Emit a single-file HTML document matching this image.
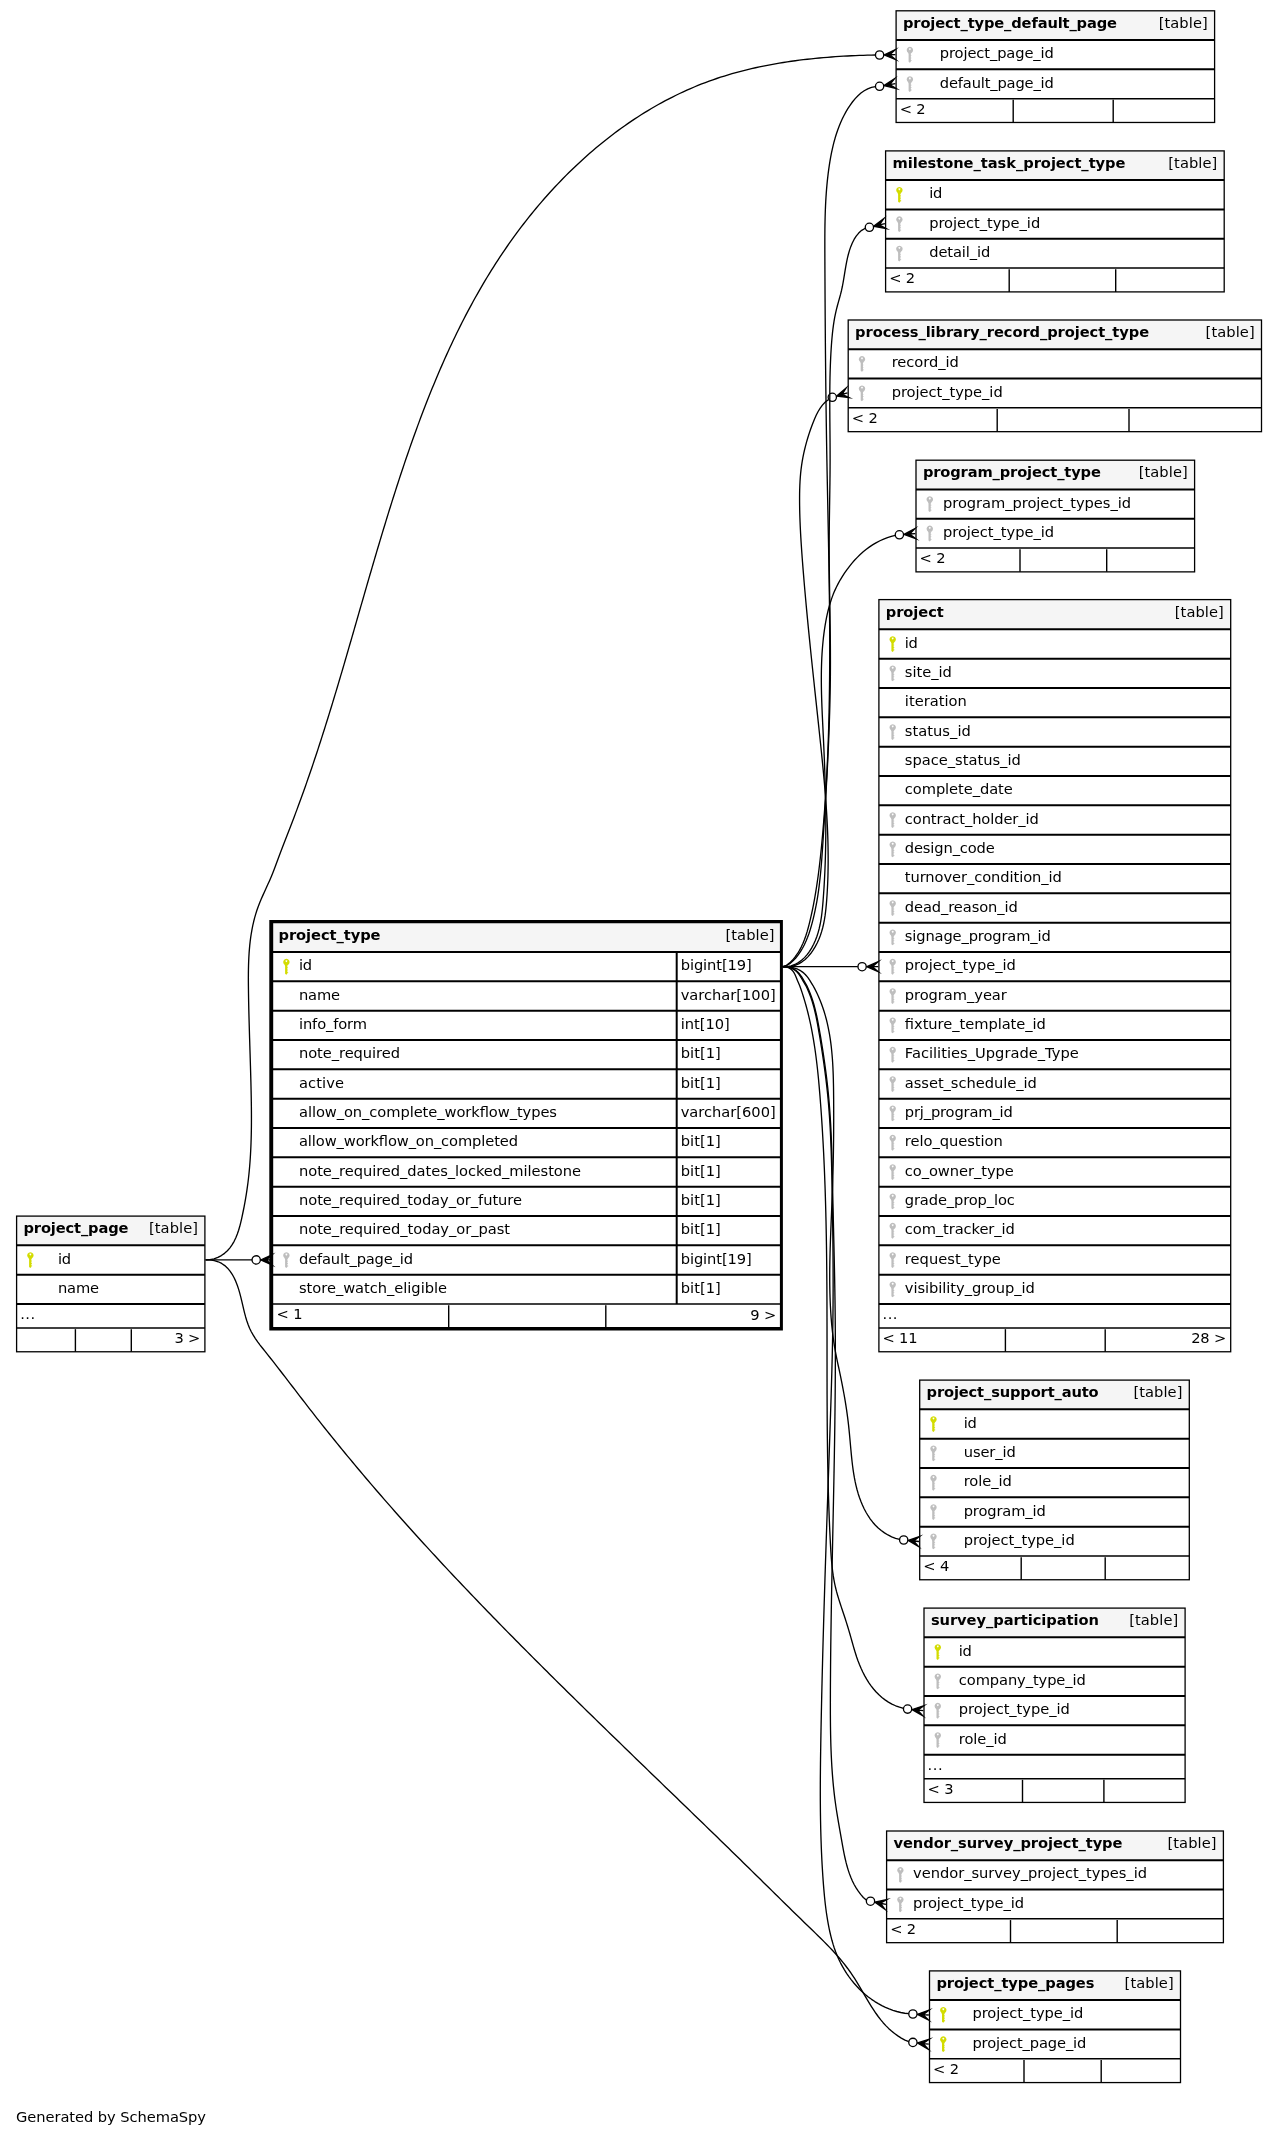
<!DOCTYPE html>
<html lang="en"><head><meta charset="utf-8"><title>project_type relationships</title>
<style>html,body{margin:0;padding:0;background:#fff}svg{display:block;will-change:transform}text{white-space:pre}</style>
</head><body>
<svg width="1277" height="2137" viewBox="0 0 1277 2137" font-family="'DejaVu Sans','Liberation Sans',sans-serif" font-size="14.67" fill="#000">
<rect width="1277" height="2137" fill="#fff"/>
<g class="tb" stroke="#000" fill="none">
<rect x="896.1" y="10.8" width="318.5" height="111.67" fill="#fff" stroke="none"/>
<rect x="896.1" y="10.8" width="318.5" height="29.2" fill="#f5f5f5" stroke="none"/>
<rect x="896.1" y="10.8" width="318.5" height="111.67" stroke-width="1.3"/>
<path d="M896.1,40 H1214.6" stroke-width="2"/>
<path d="M896.1,69.33 H1214.6" stroke-width="2"/>
<path d="M896.1,98.67 H1214.6" stroke-width="1.5"/>
<path d="M1013.2,99.87 V122.47" stroke-width="1.4"/>
<path d="M1113.2,99.87 V122.47" stroke-width="1.4"/>
</g>
<g>
<text x="903" y="27.7" font-weight="bold" textLength="214">project_type_default_page</text>
<text x="1207.7" y="28" text-anchor="end" textLength="49">[table]</text>
<path transform="translate(909.9,54.77)" d="M0,-7.9 a3.2,3.2 0 1 1 -0.01,0 Z M0,-6.55 a0.9,0.9 0 1 0 0.01,0 Z M-2,-2.4 H2 L0.95,-0.7 V0.7 H1.6 V1.3 H0.95 V3.0 H1.6 V3.6 H0.95 V5.5 H1.75 V6.3 H0.95 V7.0 L-0.1,7.9 L-1.3,6.9 V-0.7 Z" fill="#bebebe"/>
<text x="939.8" y="58.27" textLength="114">project_page_id</text>
<path transform="translate(909.9,84.1)" d="M0,-7.9 a3.2,3.2 0 1 1 -0.01,0 Z M0,-6.55 a0.9,0.9 0 1 0 0.01,0 Z M-2,-2.4 H2 L0.95,-0.7 V0.7 H1.6 V1.3 H0.95 V3.0 H1.6 V3.6 H0.95 V5.5 H1.75 V6.3 H0.95 V7.0 L-0.1,7.9 L-1.3,6.9 V-0.7 Z" fill="#bebebe"/>
<text x="939.8" y="87.6" textLength="114">default_page_id</text>
<text x="899.7" y="113.87" textLength="26">&lt; 2</text>
</g>
<g class="tb" stroke="#000" fill="none">
<rect x="885.6" y="150.9" width="338.6" height="141" fill="#fff" stroke="none"/>
<rect x="885.6" y="150.9" width="338.6" height="29.2" fill="#f5f5f5" stroke="none"/>
<rect x="885.6" y="150.9" width="338.6" height="141" stroke-width="1.3"/>
<path d="M885.6,180.1 H1224.2" stroke-width="2"/>
<path d="M885.6,209.43 H1224.2" stroke-width="2"/>
<path d="M885.6,238.77 H1224.2" stroke-width="2"/>
<path d="M885.6,268.1 H1224.2" stroke-width="1.5"/>
<path d="M1009.2,269.3 V291.9" stroke-width="1.4"/>
<path d="M1115.7,269.3 V291.9" stroke-width="1.4"/>
</g>
<g>
<text x="892.5" y="167.8" font-weight="bold" textLength="233">milestone_task_project_type</text>
<text x="1217.3" y="168.1" text-anchor="end" textLength="49">[table]</text>
<path transform="translate(899.4,194.87)" d="M0,-7.9 a3.2,3.2 0 1 1 -0.01,0 Z M0,-6.55 a0.9,0.9 0 1 0 0.01,0 Z M-2,-2.4 H2 L0.95,-0.7 V0.7 H1.6 V1.3 H0.95 V3.0 H1.6 V3.6 H0.95 V5.5 H1.75 V6.3 H0.95 V7.0 L-0.1,7.9 L-1.3,6.9 V-0.7 Z" fill="#d3dc00"/>
<text x="929.2" y="198.37" textLength="13">id</text>
<path transform="translate(899.4,224.2)" d="M0,-7.9 a3.2,3.2 0 1 1 -0.01,0 Z M0,-6.55 a0.9,0.9 0 1 0 0.01,0 Z M-2,-2.4 H2 L0.95,-0.7 V0.7 H1.6 V1.3 H0.95 V3.0 H1.6 V3.6 H0.95 V5.5 H1.75 V6.3 H0.95 V7.0 L-0.1,7.9 L-1.3,6.9 V-0.7 Z" fill="#bebebe"/>
<text x="929.2" y="227.7" textLength="111">project_type_id</text>
<path transform="translate(899.4,253.53)" d="M0,-7.9 a3.2,3.2 0 1 1 -0.01,0 Z M0,-6.55 a0.9,0.9 0 1 0 0.01,0 Z M-2,-2.4 H2 L0.95,-0.7 V0.7 H1.6 V1.3 H0.95 V3.0 H1.6 V3.6 H0.95 V5.5 H1.75 V6.3 H0.95 V7.0 L-0.1,7.9 L-1.3,6.9 V-0.7 Z" fill="#bebebe"/>
<text x="929.2" y="257.03" textLength="61">detail_id</text>
<text x="889.2" y="283.3" textLength="26">&lt; 2</text>
</g>
<g class="tb" stroke="#000" fill="none">
<rect x="848.2" y="320" width="413.3" height="111.67" fill="#fff" stroke="none"/>
<rect x="848.2" y="320" width="413.3" height="29.2" fill="#f5f5f5" stroke="none"/>
<rect x="848.2" y="320" width="413.3" height="111.67" stroke-width="1.3"/>
<path d="M848.2,349.2 H1261.5" stroke-width="2"/>
<path d="M848.2,378.53 H1261.5" stroke-width="2"/>
<path d="M848.2,407.87 H1261.5" stroke-width="1.5"/>
<path d="M997.2,409.07 V431.67" stroke-width="1.4"/>
<path d="M1129,409.07 V431.67" stroke-width="1.4"/>
</g>
<g>
<text x="855.1" y="336.9" font-weight="bold" textLength="294">process_library_record_project_type</text>
<text x="1254.6" y="337.2" text-anchor="end" textLength="49">[table]</text>
<path transform="translate(862,363.97)" d="M0,-7.9 a3.2,3.2 0 1 1 -0.01,0 Z M0,-6.55 a0.9,0.9 0 1 0 0.01,0 Z M-2,-2.4 H2 L0.95,-0.7 V0.7 H1.6 V1.3 H0.95 V3.0 H1.6 V3.6 H0.95 V5.5 H1.75 V6.3 H0.95 V7.0 L-0.1,7.9 L-1.3,6.9 V-0.7 Z" fill="#bebebe"/>
<text x="891.7" y="367.47" textLength="67">record_id</text>
<path transform="translate(862,393.3)" d="M0,-7.9 a3.2,3.2 0 1 1 -0.01,0 Z M0,-6.55 a0.9,0.9 0 1 0 0.01,0 Z M-2,-2.4 H2 L0.95,-0.7 V0.7 H1.6 V1.3 H0.95 V3.0 H1.6 V3.6 H0.95 V5.5 H1.75 V6.3 H0.95 V7.0 L-0.1,7.9 L-1.3,6.9 V-0.7 Z" fill="#bebebe"/>
<text x="891.7" y="396.8" textLength="111">project_type_id</text>
<text x="851.8" y="423.07" textLength="26">&lt; 2</text>
</g>
<g class="tb" stroke="#000" fill="none">
<rect x="916" y="460.2" width="278.6" height="111.67" fill="#fff" stroke="none"/>
<rect x="916" y="460.2" width="278.6" height="29.2" fill="#f5f5f5" stroke="none"/>
<rect x="916" y="460.2" width="278.6" height="111.67" stroke-width="1.3"/>
<path d="M916,489.4 H1194.6" stroke-width="2"/>
<path d="M916,518.73 H1194.6" stroke-width="2"/>
<path d="M916,548.07 H1194.6" stroke-width="1.5"/>
<path d="M1020,549.27 V571.87" stroke-width="1.4"/>
<path d="M1106.7,549.27 V571.87" stroke-width="1.4"/>
</g>
<g>
<text x="922.9" y="477.1" font-weight="bold" textLength="178">program_project_type</text>
<text x="1187.7" y="477.4" text-anchor="end" textLength="49">[table]</text>
<path transform="translate(929.8,504.17)" d="M0,-7.9 a3.2,3.2 0 1 1 -0.01,0 Z M0,-6.55 a0.9,0.9 0 1 0 0.01,0 Z M-2,-2.4 H2 L0.95,-0.7 V0.7 H1.6 V1.3 H0.95 V3.0 H1.6 V3.6 H0.95 V5.5 H1.75 V6.3 H0.95 V7.0 L-0.1,7.9 L-1.3,6.9 V-0.7 Z" fill="#bebebe"/>
<text x="943" y="507.67" textLength="188">program_project_types_id</text>
<path transform="translate(929.8,533.5)" d="M0,-7.9 a3.2,3.2 0 1 1 -0.01,0 Z M0,-6.55 a0.9,0.9 0 1 0 0.01,0 Z M-2,-2.4 H2 L0.95,-0.7 V0.7 H1.6 V1.3 H0.95 V3.0 H1.6 V3.6 H0.95 V5.5 H1.75 V6.3 H0.95 V7.0 L-0.1,7.9 L-1.3,6.9 V-0.7 Z" fill="#bebebe"/>
<text x="943" y="537" textLength="111">project_type_id</text>
<text x="919.6" y="563.27" textLength="26">&lt; 2</text>
</g>
<g class="tb" stroke="#000" fill="none">
<rect x="878.9" y="599.6" width="351.8" height="752.16" fill="#fff" stroke="none"/>
<rect x="878.9" y="599.6" width="351.8" height="29.7" fill="#f5f5f5" stroke="none"/>
<rect x="878.9" y="599.6" width="351.8" height="752.16" stroke-width="1.3"/>
<path d="M878.9,629.3 H1230.7" stroke-width="2"/>
<path d="M878.9,658.63 H1230.7" stroke-width="2"/>
<path d="M878.9,687.97 H1230.7" stroke-width="2"/>
<path d="M878.9,717.3 H1230.7" stroke-width="2"/>
<path d="M878.9,746.63 H1230.7" stroke-width="2"/>
<path d="M878.9,775.97 H1230.7" stroke-width="2"/>
<path d="M878.9,805.3 H1230.7" stroke-width="2"/>
<path d="M878.9,834.63 H1230.7" stroke-width="2"/>
<path d="M878.9,863.96 H1230.7" stroke-width="2"/>
<path d="M878.9,893.3 H1230.7" stroke-width="2"/>
<path d="M878.9,922.63 H1230.7" stroke-width="2"/>
<path d="M878.9,951.96 H1230.7" stroke-width="2"/>
<path d="M878.9,981.3 H1230.7" stroke-width="2"/>
<path d="M878.9,1010.63 H1230.7" stroke-width="2"/>
<path d="M878.9,1039.96 H1230.7" stroke-width="2"/>
<path d="M878.9,1069.3 H1230.7" stroke-width="2"/>
<path d="M878.9,1098.63 H1230.7" stroke-width="2"/>
<path d="M878.9,1127.96 H1230.7" stroke-width="2"/>
<path d="M878.9,1157.29 H1230.7" stroke-width="2"/>
<path d="M878.9,1186.63 H1230.7" stroke-width="2"/>
<path d="M878.9,1215.96 H1230.7" stroke-width="2"/>
<path d="M878.9,1245.29 H1230.7" stroke-width="2"/>
<path d="M878.9,1274.63 H1230.7" stroke-width="2"/>
<path d="M878.9,1303.96 H1230.7" stroke-width="2"/>
<path d="M878.9,1327.96 H1230.7" stroke-width="1.5"/>
<path d="M1005.4,1329.16 V1351.76" stroke-width="1.4"/>
<path d="M1105.2,1329.16 V1351.76" stroke-width="1.4"/>
</g>
<g>
<text x="885.8" y="616.5" font-weight="bold" textLength="58">project</text>
<text x="1223.8" y="616.8" text-anchor="end" textLength="49">[table]</text>
<path transform="translate(892.7,644.07)" d="M0,-7.9 a3.2,3.2 0 1 1 -0.01,0 Z M0,-6.55 a0.9,0.9 0 1 0 0.01,0 Z M-2,-2.4 H2 L0.95,-0.7 V0.7 H1.6 V1.3 H0.95 V3.0 H1.6 V3.6 H0.95 V5.5 H1.75 V6.3 H0.95 V7.0 L-0.1,7.9 L-1.3,6.9 V-0.7 Z" fill="#d3dc00"/>
<text x="904.8" y="647.57" textLength="13">id</text>
<path transform="translate(892.7,673.4)" d="M0,-7.9 a3.2,3.2 0 1 1 -0.01,0 Z M0,-6.55 a0.9,0.9 0 1 0 0.01,0 Z M-2,-2.4 H2 L0.95,-0.7 V0.7 H1.6 V1.3 H0.95 V3.0 H1.6 V3.6 H0.95 V5.5 H1.75 V6.3 H0.95 V7.0 L-0.1,7.9 L-1.3,6.9 V-0.7 Z" fill="#bebebe"/>
<text x="904.8" y="676.9" textLength="47">site_id</text>
<text x="904.8" y="706.23" textLength="62">iteration</text>
<path transform="translate(892.7,732.07)" d="M0,-7.9 a3.2,3.2 0 1 1 -0.01,0 Z M0,-6.55 a0.9,0.9 0 1 0 0.01,0 Z M-2,-2.4 H2 L0.95,-0.7 V0.7 H1.6 V1.3 H0.95 V3.0 H1.6 V3.6 H0.95 V5.5 H1.75 V6.3 H0.95 V7.0 L-0.1,7.9 L-1.3,6.9 V-0.7 Z" fill="#bebebe"/>
<text x="904.8" y="735.57" textLength="66">status_id</text>
<text x="904.8" y="764.9" textLength="116">space_status_id</text>
<text x="904.8" y="794.23" textLength="108">complete_date</text>
<path transform="translate(892.7,820.06)" d="M0,-7.9 a3.2,3.2 0 1 1 -0.01,0 Z M0,-6.55 a0.9,0.9 0 1 0 0.01,0 Z M-2,-2.4 H2 L0.95,-0.7 V0.7 H1.6 V1.3 H0.95 V3.0 H1.6 V3.6 H0.95 V5.5 H1.75 V6.3 H0.95 V7.0 L-0.1,7.9 L-1.3,6.9 V-0.7 Z" fill="#bebebe"/>
<text x="904.8" y="823.56" textLength="134">contract_holder_id</text>
<path transform="translate(892.7,849.4)" d="M0,-7.9 a3.2,3.2 0 1 1 -0.01,0 Z M0,-6.55 a0.9,0.9 0 1 0 0.01,0 Z M-2,-2.4 H2 L0.95,-0.7 V0.7 H1.6 V1.3 H0.95 V3.0 H1.6 V3.6 H0.95 V5.5 H1.75 V6.3 H0.95 V7.0 L-0.1,7.9 L-1.3,6.9 V-0.7 Z" fill="#bebebe"/>
<text x="904.8" y="852.9" textLength="90">design_code</text>
<text x="904.8" y="882.23" textLength="157">turnover_condition_id</text>
<path transform="translate(892.7,908.06)" d="M0,-7.9 a3.2,3.2 0 1 1 -0.01,0 Z M0,-6.55 a0.9,0.9 0 1 0 0.01,0 Z M-2,-2.4 H2 L0.95,-0.7 V0.7 H1.6 V1.3 H0.95 V3.0 H1.6 V3.6 H0.95 V5.5 H1.75 V6.3 H0.95 V7.0 L-0.1,7.9 L-1.3,6.9 V-0.7 Z" fill="#bebebe"/>
<text x="904.8" y="911.56" textLength="113">dead_reason_id</text>
<path transform="translate(892.7,937.4)" d="M0,-7.9 a3.2,3.2 0 1 1 -0.01,0 Z M0,-6.55 a0.9,0.9 0 1 0 0.01,0 Z M-2,-2.4 H2 L0.95,-0.7 V0.7 H1.6 V1.3 H0.95 V3.0 H1.6 V3.6 H0.95 V5.5 H1.75 V6.3 H0.95 V7.0 L-0.1,7.9 L-1.3,6.9 V-0.7 Z" fill="#bebebe"/>
<text x="904.8" y="940.9" textLength="146">signage_program_id</text>
<path transform="translate(892.7,966.73)" d="M0,-7.9 a3.2,3.2 0 1 1 -0.01,0 Z M0,-6.55 a0.9,0.9 0 1 0 0.01,0 Z M-2,-2.4 H2 L0.95,-0.7 V0.7 H1.6 V1.3 H0.95 V3.0 H1.6 V3.6 H0.95 V5.5 H1.75 V6.3 H0.95 V7.0 L-0.1,7.9 L-1.3,6.9 V-0.7 Z" fill="#bebebe"/>
<text x="904.8" y="970.23" textLength="111">project_type_id</text>
<path transform="translate(892.7,996.06)" d="M0,-7.9 a3.2,3.2 0 1 1 -0.01,0 Z M0,-6.55 a0.9,0.9 0 1 0 0.01,0 Z M-2,-2.4 H2 L0.95,-0.7 V0.7 H1.6 V1.3 H0.95 V3.0 H1.6 V3.6 H0.95 V5.5 H1.75 V6.3 H0.95 V7.0 L-0.1,7.9 L-1.3,6.9 V-0.7 Z" fill="#bebebe"/>
<text x="904.8" y="999.56" textLength="102">program_year</text>
<path transform="translate(892.7,1025.4)" d="M0,-7.9 a3.2,3.2 0 1 1 -0.01,0 Z M0,-6.55 a0.9,0.9 0 1 0 0.01,0 Z M-2,-2.4 H2 L0.95,-0.7 V0.7 H1.6 V1.3 H0.95 V3.0 H1.6 V3.6 H0.95 V5.5 H1.75 V6.3 H0.95 V7.0 L-0.1,7.9 L-1.3,6.9 V-0.7 Z" fill="#bebebe"/>
<text x="904.8" y="1028.9" textLength="141">fixture_template_id</text>
<path transform="translate(892.7,1054.73)" d="M0,-7.9 a3.2,3.2 0 1 1 -0.01,0 Z M0,-6.55 a0.9,0.9 0 1 0 0.01,0 Z M-2,-2.4 H2 L0.95,-0.7 V0.7 H1.6 V1.3 H0.95 V3.0 H1.6 V3.6 H0.95 V5.5 H1.75 V6.3 H0.95 V7.0 L-0.1,7.9 L-1.3,6.9 V-0.7 Z" fill="#bebebe"/>
<text x="904.8" y="1058.23" textLength="174">Facilities_Upgrade_Type</text>
<path transform="translate(892.7,1084.06)" d="M0,-7.9 a3.2,3.2 0 1 1 -0.01,0 Z M0,-6.55 a0.9,0.9 0 1 0 0.01,0 Z M-2,-2.4 H2 L0.95,-0.7 V0.7 H1.6 V1.3 H0.95 V3.0 H1.6 V3.6 H0.95 V5.5 H1.75 V6.3 H0.95 V7.0 L-0.1,7.9 L-1.3,6.9 V-0.7 Z" fill="#bebebe"/>
<text x="904.8" y="1087.56" textLength="132">asset_schedule_id</text>
<path transform="translate(892.7,1113.39)" d="M0,-7.9 a3.2,3.2 0 1 1 -0.01,0 Z M0,-6.55 a0.9,0.9 0 1 0 0.01,0 Z M-2,-2.4 H2 L0.95,-0.7 V0.7 H1.6 V1.3 H0.95 V3.0 H1.6 V3.6 H0.95 V5.5 H1.75 V6.3 H0.95 V7.0 L-0.1,7.9 L-1.3,6.9 V-0.7 Z" fill="#bebebe"/>
<text x="904.8" y="1116.89" textLength="108">prj_program_id</text>
<path transform="translate(892.7,1142.73)" d="M0,-7.9 a3.2,3.2 0 1 1 -0.01,0 Z M0,-6.55 a0.9,0.9 0 1 0 0.01,0 Z M-2,-2.4 H2 L0.95,-0.7 V0.7 H1.6 V1.3 H0.95 V3.0 H1.6 V3.6 H0.95 V5.5 H1.75 V6.3 H0.95 V7.0 L-0.1,7.9 L-1.3,6.9 V-0.7 Z" fill="#bebebe"/>
<text x="904.8" y="1146.23" textLength="98">relo_question</text>
<path transform="translate(892.7,1172.06)" d="M0,-7.9 a3.2,3.2 0 1 1 -0.01,0 Z M0,-6.55 a0.9,0.9 0 1 0 0.01,0 Z M-2,-2.4 H2 L0.95,-0.7 V0.7 H1.6 V1.3 H0.95 V3.0 H1.6 V3.6 H0.95 V5.5 H1.75 V6.3 H0.95 V7.0 L-0.1,7.9 L-1.3,6.9 V-0.7 Z" fill="#bebebe"/>
<text x="904.8" y="1175.56" textLength="109">co_owner_type</text>
<path transform="translate(892.7,1201.39)" d="M0,-7.9 a3.2,3.2 0 1 1 -0.01,0 Z M0,-6.55 a0.9,0.9 0 1 0 0.01,0 Z M-2,-2.4 H2 L0.95,-0.7 V0.7 H1.6 V1.3 H0.95 V3.0 H1.6 V3.6 H0.95 V5.5 H1.75 V6.3 H0.95 V7.0 L-0.1,7.9 L-1.3,6.9 V-0.7 Z" fill="#bebebe"/>
<text x="904.8" y="1204.89" textLength="110">grade_prop_loc</text>
<path transform="translate(892.7,1230.73)" d="M0,-7.9 a3.2,3.2 0 1 1 -0.01,0 Z M0,-6.55 a0.9,0.9 0 1 0 0.01,0 Z M-2,-2.4 H2 L0.95,-0.7 V0.7 H1.6 V1.3 H0.95 V3.0 H1.6 V3.6 H0.95 V5.5 H1.75 V6.3 H0.95 V7.0 L-0.1,7.9 L-1.3,6.9 V-0.7 Z" fill="#bebebe"/>
<text x="904.8" y="1234.23" textLength="110">com_tracker_id</text>
<path transform="translate(892.7,1260.06)" d="M0,-7.9 a3.2,3.2 0 1 1 -0.01,0 Z M0,-6.55 a0.9,0.9 0 1 0 0.01,0 Z M-2,-2.4 H2 L0.95,-0.7 V0.7 H1.6 V1.3 H0.95 V3.0 H1.6 V3.6 H0.95 V5.5 H1.75 V6.3 H0.95 V7.0 L-0.1,7.9 L-1.3,6.9 V-0.7 Z" fill="#bebebe"/>
<text x="904.8" y="1263.56" textLength="96">request_type</text>
<path transform="translate(892.7,1289.39)" d="M0,-7.9 a3.2,3.2 0 1 1 -0.01,0 Z M0,-6.55 a0.9,0.9 0 1 0 0.01,0 Z M-2,-2.4 H2 L0.95,-0.7 V0.7 H1.6 V1.3 H0.95 V3.0 H1.6 V3.6 H0.95 V5.5 H1.75 V6.3 H0.95 V7.0 L-0.1,7.9 L-1.3,6.9 V-0.7 Z" fill="#bebebe"/>
<text x="904.8" y="1292.89" textLength="130">visibility_group_id</text>
<text x="882.5" y="1319.26" textLength="15">...</text>
<text x="882.5" y="1343.16" textLength="35">&lt; 11</text>
<text x="1226.2" y="1343.16" text-anchor="end" textLength="35">28 &gt;</text>
</g>
<g class="tb" stroke="#000" fill="none">
<rect x="919.7" y="1380.1" width="269.6" height="199.66" fill="#fff" stroke="none"/>
<rect x="919.7" y="1380.1" width="269.6" height="29.2" fill="#f5f5f5" stroke="none"/>
<rect x="919.7" y="1380.1" width="269.6" height="199.66" stroke-width="1.3"/>
<path d="M919.7,1409.3 H1189.3" stroke-width="2"/>
<path d="M919.7,1438.63 H1189.3" stroke-width="2"/>
<path d="M919.7,1467.97 H1189.3" stroke-width="2"/>
<path d="M919.7,1497.3 H1189.3" stroke-width="2"/>
<path d="M919.7,1526.63 H1189.3" stroke-width="2"/>
<path d="M919.7,1555.96 H1189.3" stroke-width="1.5"/>
<path d="M1021.2,1557.16 V1579.76" stroke-width="1.4"/>
<path d="M1105.2,1557.16 V1579.76" stroke-width="1.4"/>
</g>
<g>
<text x="926.6" y="1397" font-weight="bold" textLength="172">project_support_auto</text>
<text x="1182.4" y="1397.3" text-anchor="end" textLength="49">[table]</text>
<path transform="translate(933.5,1424.07)" d="M0,-7.9 a3.2,3.2 0 1 1 -0.01,0 Z M0,-6.55 a0.9,0.9 0 1 0 0.01,0 Z M-2,-2.4 H2 L0.95,-0.7 V0.7 H1.6 V1.3 H0.95 V3.0 H1.6 V3.6 H0.95 V5.5 H1.75 V6.3 H0.95 V7.0 L-0.1,7.9 L-1.3,6.9 V-0.7 Z" fill="#d3dc00"/>
<text x="963.7" y="1427.57" textLength="13">id</text>
<path transform="translate(933.5,1453.4)" d="M0,-7.9 a3.2,3.2 0 1 1 -0.01,0 Z M0,-6.55 a0.9,0.9 0 1 0 0.01,0 Z M-2,-2.4 H2 L0.95,-0.7 V0.7 H1.6 V1.3 H0.95 V3.0 H1.6 V3.6 H0.95 V5.5 H1.75 V6.3 H0.95 V7.0 L-0.1,7.9 L-1.3,6.9 V-0.7 Z" fill="#bebebe"/>
<text x="963.7" y="1456.9" textLength="52">user_id</text>
<path transform="translate(933.5,1482.73)" d="M0,-7.9 a3.2,3.2 0 1 1 -0.01,0 Z M0,-6.55 a0.9,0.9 0 1 0 0.01,0 Z M-2,-2.4 H2 L0.95,-0.7 V0.7 H1.6 V1.3 H0.95 V3.0 H1.6 V3.6 H0.95 V5.5 H1.75 V6.3 H0.95 V7.0 L-0.1,7.9 L-1.3,6.9 V-0.7 Z" fill="#bebebe"/>
<text x="963.7" y="1486.23" textLength="48">role_id</text>
<path transform="translate(933.5,1512.07)" d="M0,-7.9 a3.2,3.2 0 1 1 -0.01,0 Z M0,-6.55 a0.9,0.9 0 1 0 0.01,0 Z M-2,-2.4 H2 L0.95,-0.7 V0.7 H1.6 V1.3 H0.95 V3.0 H1.6 V3.6 H0.95 V5.5 H1.75 V6.3 H0.95 V7.0 L-0.1,7.9 L-1.3,6.9 V-0.7 Z" fill="#bebebe"/>
<text x="963.7" y="1515.57" textLength="82">program_id</text>
<path transform="translate(933.5,1541.4)" d="M0,-7.9 a3.2,3.2 0 1 1 -0.01,0 Z M0,-6.55 a0.9,0.9 0 1 0 0.01,0 Z M-2,-2.4 H2 L0.95,-0.7 V0.7 H1.6 V1.3 H0.95 V3.0 H1.6 V3.6 H0.95 V5.5 H1.75 V6.3 H0.95 V7.0 L-0.1,7.9 L-1.3,6.9 V-0.7 Z" fill="#bebebe"/>
<text x="963.7" y="1544.9" textLength="111">project_type_id</text>
<text x="923.3" y="1571.16" textLength="26">&lt; 4</text>
</g>
<g class="tb" stroke="#000" fill="none">
<rect x="924" y="1608.1" width="261.1" height="194.33" fill="#fff" stroke="none"/>
<rect x="924" y="1608.1" width="261.1" height="29.2" fill="#f5f5f5" stroke="none"/>
<rect x="924" y="1608.1" width="261.1" height="194.33" stroke-width="1.3"/>
<path d="M924,1637.3 H1185.1" stroke-width="2"/>
<path d="M924,1666.63 H1185.1" stroke-width="2"/>
<path d="M924,1695.97 H1185.1" stroke-width="2"/>
<path d="M924,1725.3 H1185.1" stroke-width="2"/>
<path d="M924,1754.63 H1185.1" stroke-width="2"/>
<path d="M924,1778.63 H1185.1" stroke-width="1.5"/>
<path d="M1022.5,1779.83 V1802.43" stroke-width="1.4"/>
<path d="M1103.9,1779.83 V1802.43" stroke-width="1.4"/>
</g>
<g>
<text x="930.9" y="1625" font-weight="bold" textLength="168">survey_participation</text>
<text x="1178.2" y="1625.3" text-anchor="end" textLength="49">[table]</text>
<path transform="translate(937.8,1652.07)" d="M0,-7.9 a3.2,3.2 0 1 1 -0.01,0 Z M0,-6.55 a0.9,0.9 0 1 0 0.01,0 Z M-2,-2.4 H2 L0.95,-0.7 V0.7 H1.6 V1.3 H0.95 V3.0 H1.6 V3.6 H0.95 V5.5 H1.75 V6.3 H0.95 V7.0 L-0.1,7.9 L-1.3,6.9 V-0.7 Z" fill="#d3dc00"/>
<text x="958.8" y="1655.57" textLength="13">id</text>
<path transform="translate(937.8,1681.4)" d="M0,-7.9 a3.2,3.2 0 1 1 -0.01,0 Z M0,-6.55 a0.9,0.9 0 1 0 0.01,0 Z M-2,-2.4 H2 L0.95,-0.7 V0.7 H1.6 V1.3 H0.95 V3.0 H1.6 V3.6 H0.95 V5.5 H1.75 V6.3 H0.95 V7.0 L-0.1,7.9 L-1.3,6.9 V-0.7 Z" fill="#bebebe"/>
<text x="958.8" y="1684.9" textLength="127">company_type_id</text>
<path transform="translate(937.8,1710.73)" d="M0,-7.9 a3.2,3.2 0 1 1 -0.01,0 Z M0,-6.55 a0.9,0.9 0 1 0 0.01,0 Z M-2,-2.4 H2 L0.95,-0.7 V0.7 H1.6 V1.3 H0.95 V3.0 H1.6 V3.6 H0.95 V5.5 H1.75 V6.3 H0.95 V7.0 L-0.1,7.9 L-1.3,6.9 V-0.7 Z" fill="#bebebe"/>
<text x="958.8" y="1714.23" textLength="111">project_type_id</text>
<path transform="translate(937.8,1740.07)" d="M0,-7.9 a3.2,3.2 0 1 1 -0.01,0 Z M0,-6.55 a0.9,0.9 0 1 0 0.01,0 Z M-2,-2.4 H2 L0.95,-0.7 V0.7 H1.6 V1.3 H0.95 V3.0 H1.6 V3.6 H0.95 V5.5 H1.75 V6.3 H0.95 V7.0 L-0.1,7.9 L-1.3,6.9 V-0.7 Z" fill="#bebebe"/>
<text x="958.8" y="1743.57" textLength="48">role_id</text>
<text x="927.6" y="1769.93" textLength="15">...</text>
<text x="927.6" y="1793.83" textLength="26">&lt; 3</text>
</g>
<g class="tb" stroke="#000" fill="none">
<rect x="886.6" y="1831" width="336.8" height="111.67" fill="#fff" stroke="none"/>
<rect x="886.6" y="1831" width="336.8" height="29.2" fill="#f5f5f5" stroke="none"/>
<rect x="886.6" y="1831" width="336.8" height="111.67" stroke-width="1.3"/>
<path d="M886.6,1860.2 H1223.4" stroke-width="2"/>
<path d="M886.6,1889.53 H1223.4" stroke-width="2"/>
<path d="M886.6,1918.87 H1223.4" stroke-width="1.5"/>
<path d="M1010.5,1920.07 V1942.67" stroke-width="1.4"/>
<path d="M1117.2,1920.07 V1942.67" stroke-width="1.4"/>
</g>
<g>
<text x="893.5" y="1847.9" font-weight="bold" textLength="229">vendor_survey_project_type</text>
<text x="1216.5" y="1848.2" text-anchor="end" textLength="49">[table]</text>
<path transform="translate(900.4,1874.97)" d="M0,-7.9 a3.2,3.2 0 1 1 -0.01,0 Z M0,-6.55 a0.9,0.9 0 1 0 0.01,0 Z M-2,-2.4 H2 L0.95,-0.7 V0.7 H1.6 V1.3 H0.95 V3.0 H1.6 V3.6 H0.95 V5.5 H1.75 V6.3 H0.95 V7.0 L-0.1,7.9 L-1.3,6.9 V-0.7 Z" fill="#bebebe"/>
<text x="913" y="1878.47" textLength="234">vendor_survey_project_types_id</text>
<path transform="translate(900.4,1904.3)" d="M0,-7.9 a3.2,3.2 0 1 1 -0.01,0 Z M0,-6.55 a0.9,0.9 0 1 0 0.01,0 Z M-2,-2.4 H2 L0.95,-0.7 V0.7 H1.6 V1.3 H0.95 V3.0 H1.6 V3.6 H0.95 V5.5 H1.75 V6.3 H0.95 V7.0 L-0.1,7.9 L-1.3,6.9 V-0.7 Z" fill="#bebebe"/>
<text x="913" y="1907.8" textLength="111">project_type_id</text>
<text x="890.2" y="1934.07" textLength="26">&lt; 2</text>
</g>
<g class="tb" stroke="#000" fill="none">
<rect x="929.5" y="1970.9" width="251" height="111.67" fill="#fff" stroke="none"/>
<rect x="929.5" y="1970.9" width="251" height="29.2" fill="#f5f5f5" stroke="none"/>
<rect x="929.5" y="1970.9" width="251" height="111.67" stroke-width="1.3"/>
<path d="M929.5,2000.1 H1180.5" stroke-width="2"/>
<path d="M929.5,2029.43 H1180.5" stroke-width="2"/>
<path d="M929.5,2058.77 H1180.5" stroke-width="1.5"/>
<path d="M1024,2059.97 V2082.57" stroke-width="1.4"/>
<path d="M1101.2,2059.97 V2082.57" stroke-width="1.4"/>
</g>
<g>
<text x="936.4" y="1987.8" font-weight="bold" textLength="158">project_type_pages</text>
<text x="1173.6" y="1988.1" text-anchor="end" textLength="49">[table]</text>
<path transform="translate(943.3,2014.87)" d="M0,-7.9 a3.2,3.2 0 1 1 -0.01,0 Z M0,-6.55 a0.9,0.9 0 1 0 0.01,0 Z M-2,-2.4 H2 L0.95,-0.7 V0.7 H1.6 V1.3 H0.95 V3.0 H1.6 V3.6 H0.95 V5.5 H1.75 V6.3 H0.95 V7.0 L-0.1,7.9 L-1.3,6.9 V-0.7 Z" fill="#d3dc00"/>
<text x="972.4" y="2018.37" textLength="111">project_type_id</text>
<path transform="translate(943.3,2044.2)" d="M0,-7.9 a3.2,3.2 0 1 1 -0.01,0 Z M0,-6.55 a0.9,0.9 0 1 0 0.01,0 Z M-2,-2.4 H2 L0.95,-0.7 V0.7 H1.6 V1.3 H0.95 V3.0 H1.6 V3.6 H0.95 V5.5 H1.75 V6.3 H0.95 V7.0 L-0.1,7.9 L-1.3,6.9 V-0.7 Z" fill="#d3dc00"/>
<text x="972.4" y="2047.7" textLength="114">project_page_id</text>
<text x="933.1" y="2073.97" textLength="26">&lt; 2</text>
</g>
<g class="tb" stroke="#000" fill="none">
<rect x="16.6" y="1216.1" width="188.3" height="135.67" fill="#fff" stroke="none"/>
<rect x="16.6" y="1216.1" width="188.3" height="29.2" fill="#f5f5f5" stroke="none"/>
<rect x="16.6" y="1216.1" width="188.3" height="135.67" stroke-width="1.3"/>
<path d="M16.6,1245.3 H204.9" stroke-width="2"/>
<path d="M16.6,1274.63 H204.9" stroke-width="2"/>
<path d="M16.6,1303.97 H204.9" stroke-width="2"/>
<path d="M16.6,1327.97 H204.9" stroke-width="1.5"/>
<path d="M75.4,1329.17 V1351.77" stroke-width="1.4"/>
<path d="M131.3,1329.17 V1351.77" stroke-width="1.4"/>
</g>
<g>
<text x="23.5" y="1233" font-weight="bold" textLength="105">project_page</text>
<text x="198" y="1233.3" text-anchor="end" textLength="49">[table]</text>
<path transform="translate(30.4,1260.07)" d="M0,-7.9 a3.2,3.2 0 1 1 -0.01,0 Z M0,-6.55 a0.9,0.9 0 1 0 0.01,0 Z M-2,-2.4 H2 L0.95,-0.7 V0.7 H1.6 V1.3 H0.95 V3.0 H1.6 V3.6 H0.95 V5.5 H1.75 V6.3 H0.95 V7.0 L-0.1,7.9 L-1.3,6.9 V-0.7 Z" fill="#d3dc00"/>
<text x="58" y="1263.57" textLength="13">id</text>
<text x="58" y="1292.9" textLength="41">name</text>
<text x="20.2" y="1319.27" textLength="15">...</text>
<text x="200.4" y="1343.17" text-anchor="end" textLength="26">3 &gt;</text>
</g>
<g class="tb" stroke="#000" fill="none">
<rect x="269.3" y="920.2" width="513.5" height="410.5" fill="#fff" stroke="none"/>
<rect x="273" y="923" width="507.1" height="29" fill="#f5f5f5" stroke="none"/>
<path d="M269.3,920.1 H782.9 V1330.5 H269.3 Z M273.2,923.2 V1327 H779.9 V923.2 Z" fill="#000" stroke="none" fill-rule="evenodd"/>
<path d="M273,952 H780.1" stroke-width="2"/>
<path d="M273,981.33 H780.1" stroke-width="2"/>
<path d="M273,1010.67 H780.1" stroke-width="2"/>
<path d="M273,1040 H780.1" stroke-width="2"/>
<path d="M273,1069.33 H780.1" stroke-width="2"/>
<path d="M273,1098.66 H780.1" stroke-width="2"/>
<path d="M273,1128 H780.1" stroke-width="2"/>
<path d="M273,1157.33 H780.1" stroke-width="2"/>
<path d="M273,1186.66 H780.1" stroke-width="2"/>
<path d="M273,1216 H780.1" stroke-width="2"/>
<path d="M273,1245.33 H780.1" stroke-width="2"/>
<path d="M273,1274.66 H780.1" stroke-width="2"/>
<path d="M273,1304 H780.1" stroke-width="1.5"/>
<path d="M676.7,952 V1304" stroke-width="2"/>
<path d="M448.7,1305.2 V1327.2" stroke-width="1.4"/>
<path d="M605.8,1305.2 V1327.2" stroke-width="1.4"/>
</g>
<g>
<text x="278.5" y="939.6" font-weight="bold" textLength="102">project_type</text>
<text x="774.5" y="939.9" text-anchor="end" textLength="49">[table]</text>
<path transform="translate(286.4,966.77)" d="M0,-7.9 a3.2,3.2 0 1 1 -0.01,0 Z M0,-6.55 a0.9,0.9 0 1 0 0.01,0 Z M-2,-2.4 H2 L0.95,-0.7 V0.7 H1.6 V1.3 H0.95 V3.0 H1.6 V3.6 H0.95 V5.5 H1.75 V6.3 H0.95 V7.0 L-0.1,7.9 L-1.3,6.9 V-0.7 Z" fill="#d3dc00"/>
<text x="299" y="970.17" textLength="13">id</text>
<text x="680.7" y="970.17" textLength="71">bigint[19]</text>
<text x="299" y="999.5" textLength="41">name</text>
<text x="680.7" y="999.5" textLength="95">varchar[100]</text>
<text x="299" y="1028.83" textLength="68">info_form</text>
<text x="680.7" y="1028.83" textLength="49">int[10]</text>
<text x="299" y="1058.17" textLength="101">note_required</text>
<text x="680.7" y="1058.17" textLength="40">bit[1]</text>
<text x="299" y="1087.5" textLength="45">active</text>
<text x="680.7" y="1087.5" textLength="40">bit[1]</text>
<text x="299" y="1116.83" textLength="258">allow_on_complete_workflow_types</text>
<text x="680.7" y="1116.83" textLength="95">varchar[600]</text>
<text x="299" y="1146.16" textLength="219">allow_workflow_on_completed</text>
<text x="680.7" y="1146.16" textLength="40">bit[1]</text>
<text x="299" y="1175.5" textLength="282">note_required_dates_locked_milestone</text>
<text x="680.7" y="1175.5" textLength="40">bit[1]</text>
<text x="299" y="1204.83" textLength="223">note_required_today_or_future</text>
<text x="680.7" y="1204.83" textLength="40">bit[1]</text>
<text x="299" y="1234.16" textLength="211">note_required_today_or_past</text>
<text x="680.7" y="1234.16" textLength="40">bit[1]</text>
<path transform="translate(286.4,1260.1)" d="M0,-7.9 a3.2,3.2 0 1 1 -0.01,0 Z M0,-6.55 a0.9,0.9 0 1 0 0.01,0 Z M-2,-2.4 H2 L0.95,-0.7 V0.7 H1.6 V1.3 H0.95 V3.0 H1.6 V3.6 H0.95 V5.5 H1.75 V6.3 H0.95 V7.0 L-0.1,7.9 L-1.3,6.9 V-0.7 Z" fill="#bebebe"/>
<text x="299" y="1263.5" textLength="114">default_page_id</text>
<text x="680.7" y="1263.5" textLength="71">bigint[19]</text>
<text x="299" y="1292.83" textLength="148">store_watch_eligible</text>
<text x="680.7" y="1292.83" textLength="40">bit[1]</text>
<text x="276.5" y="1319.3" textLength="26">&lt; 1</text>
<text x="776.3" y="1319.8" text-anchor="end" textLength="26">9 &gt;</text>
</g>
<g fill="none" stroke="#000" stroke-width="1.33" stroke-linecap="butt" stroke-linejoin="round">
<path d="M782.8,966.7 L787.1,966.9 L791.21,966.44 L795.07,965.41 L798.68,963.85 L802.04,961.84 L805.17,959.41 L808.05,956.62 L810.69,953.54 L813.09,950.2 L815.25,946.68 L817.18,943.02 L818.88,939.27 L820.35,935.48 L821.62,931.63 L822.7,927.75 L823.62,923.83 L824.38,919.88 L825.03,915.9 L825.56,911.9 L826,907.89 L826.38,903.86 L826.7,899.83 L826.99,895.8 L827.24,891.78 L827.46,887.75 L827.65,883.72 L827.81,879.69 L827.94,875.65 L828.03,871.62 L828.1,867.59 L828.15,863.56 L828.16,859.53 L828.15,855.5 L828.11,851.47 L828.05,847.44 L827.97,843.41 L827.86,839.38 L827.73,835.35 L827.58,831.32 L827.41,827.29 L827.21,823.26 L827,819.23 L826.77,815.2 L826.53,811.17 L826.26,807.14 L825.99,803.12 L825.69,799.09 L825.38,795.06 L825.06,791.03 L824.73,787.01 L824.38,782.98 L824.03,778.96 L823.66,774.93 L823.28,770.91 L822.9,766.88 L822.5,762.86 L822.1,758.84 L821.7,754.82 L821.29,750.8 L820.87,746.77 L820.45,742.76 L820.03,738.74 L819.6,734.72 L819.18,730.7 L818.75,726.69 L818.32,722.67 L817.89,718.66 L817.46,714.64 L817.03,710.63 L816.6,706.61 L816.17,702.6 L815.73,698.59 L815.3,694.58 L814.87,690.57 L814.44,686.56 L814.02,682.55 L813.59,678.53 L813.16,674.52 L812.74,670.51 L812.31,666.5 L811.89,662.49 L811.47,658.48 L811.05,654.47 L810.64,650.46 L810.23,646.45 L809.82,642.44 L809.41,638.43 L809.01,634.41 L808.61,630.4 L808.21,626.39 L807.82,622.38 L807.43,618.36 L807.05,614.35 L806.67,610.33 L806.29,606.31 L805.92,602.3 L805.56,598.28 L805.2,594.26 L804.84,590.24 L804.49,586.22 L804.15,582.2 L803.81,578.17 L803.48,574.15 L803.15,570.12 L802.83,566.1 L802.52,562.07 L802.21,558.04 L801.92,554.01 L801.63,549.97 L801.36,545.94 L801.09,541.91 L800.85,537.87 L800.62,533.84 L800.41,529.8 L800.21,525.77 L800.05,521.73 L799.9,517.7 L799.78,513.66 L799.68,509.63 L799.62,505.59 L799.58,501.56 L799.58,497.52 L799.61,493.49 L799.69,489.46 L799.83,485.44 L800.02,481.42 L800.29,477.4 L800.63,473.39 L801.06,469.39 L801.59,465.39 L802.21,461.41 L802.92,457.43 L803.73,453.47 L804.62,449.52 L805.6,445.59 L806.67,441.67 L807.81,437.78 L809.03,433.91 L810.33,430.07 L811.69,426.25 L813.13,422.46 L814.65,418.71 L816.3,415.04 L818.13,411.49 L820.22,408.1 L822.6,404.91 L825.35,401.97 L828.6,399.4"/>
<path d="M836.66,396.01 L848.92,397.59 L842.08,394.4 L847.5,392.8 L842.08,394.4 L846.08,388.01 L836.66,396.01 Z" fill="#000" stroke-width="1.33" stroke-linejoin="miter" stroke-miterlimit="10"/>
<circle cx="832.3" cy="397.3" r="4.15" fill="#fff" stroke-width="1.33"/>
<path d="M782.8,966.7 L786.52,965.26 L789.72,962.86 L792.58,960.07 L795.14,956.99 L797.44,953.74 L799.5,950.35 L801.35,946.84 L803.01,943.22 L804.5,939.52 L805.84,935.74 L807.06,931.89 L808.16,928 L809.18,924.08 L810.14,920.14 L811.06,916.19 L811.92,912.24 L812.75,908.28 L813.54,904.32 L814.28,900.36 L815,896.39 L815.67,892.41 L816.32,888.44 L816.93,884.46 L817.51,880.47 L818.06,876.49 L818.59,872.5 L819.09,868.5 L819.57,864.51 L820.03,860.51 L820.47,856.51 L820.89,852.51 L821.3,848.51 L821.69,844.51 L822.06,840.51 L822.43,836.5 L822.79,832.5 L823.13,828.49 L823.46,824.49 L823.79,820.48 L824.1,816.48 L824.4,812.47 L824.7,808.46 L824.98,804.45 L825.25,800.44 L825.52,796.43 L825.77,792.42 L826.02,788.41 L826.25,784.4 L826.48,780.39 L826.7,776.38 L826.9,772.37 L827.11,768.35 L827.3,764.34 L827.48,760.33 L827.65,756.31 L827.82,752.3 L827.98,748.28 L828.13,744.27 L828.27,740.25 L828.41,736.24 L828.54,732.22 L828.66,728.2 L828.77,724.18 L828.88,720.17 L828.98,716.15 L829.07,712.13 L829.15,708.11 L829.23,704.09 L829.31,700.07 L829.37,696.05 L829.43,692.03 L829.49,688.01 L829.53,683.99 L829.58,679.97 L829.61,675.95 L829.64,671.93 L829.67,667.91 L829.69,663.89 L829.71,659.87 L829.72,655.85 L829.72,651.82 L829.72,647.8 L829.72,643.78 L829.71,639.76 L829.7,635.73 L829.68,631.71 L829.66,627.69 L829.64,623.66 L829.61,619.64 L829.58,615.62 L829.54,611.59 L829.5,607.57 L829.46,603.55 L829.41,599.52 L829.36,595.5 L829.31,591.47 L829.26,587.45 L829.2,583.43 L829.14,579.4 L829.08,575.38 L829.02,571.35 L828.95,567.33 L828.88,563.31 L828.81,559.28 L828.74,555.26 L828.67,551.23 L828.59,547.21 L828.52,543.19 L828.44,539.16 L828.36,535.14 L828.28,531.12 L828.21,527.09 L828.12,523.07 L828.04,519.05 L827.96,515.02 L827.88,511 L827.8,506.98 L827.72,502.95 L827.64,498.93 L827.56,494.91 L827.48,490.89 L827.4,486.86 L827.32,482.84 L827.24,478.82 L827.16,474.8 L827.08,470.78 L827.01,466.76 L826.94,462.74 L826.86,458.71 L826.79,454.69 L826.72,450.67 L826.66,446.65 L826.59,442.63 L826.52,438.61 L826.46,434.6 L826.4,430.58 L826.34,426.56 L826.28,422.54 L826.22,418.52 L826.17,414.5 L826.11,410.48 L826.06,406.46 L826.01,402.44 L825.96,398.43 L825.91,394.41 L825.86,390.39 L825.81,386.37 L825.77,382.35 L825.72,378.33 L825.68,374.32 L825.64,370.3 L825.59,366.28 L825.56,362.26 L825.52,358.24 L825.48,354.22 L825.44,350.2 L825.41,346.18 L825.37,342.16 L825.34,338.14 L825.31,334.13 L825.28,330.11 L825.25,326.08 L825.22,322.06 L825.19,318.04 L825.16,314.02 L825.14,310 L825.11,305.98 L825.09,301.96 L825.06,297.94 L825.04,293.91 L825.02,289.89 L825,285.87 L824.98,281.84 L824.96,277.82 L824.94,273.8 L824.92,269.77 L824.9,265.75 L824.89,261.72 L824.87,257.7 L824.86,253.67 L824.84,249.64 L824.84,245.62 L824.84,241.59 L824.85,237.56 L824.87,233.54 L824.9,229.51 L824.95,225.49 L825.03,221.46 L825.12,217.44 L825.23,213.42 L825.37,209.4 L825.54,205.39 L825.74,201.38 L825.98,197.36 L826.25,193.36 L826.55,189.35 L826.9,185.35 L827.28,181.35 L827.72,177.35 L828.19,173.36 L828.72,169.37 L829.3,165.39 L829.93,161.41 L830.62,157.44 L831.38,153.48 L832.2,149.53 L833.11,145.6 L834.09,141.7 L835.18,137.82 L836.36,133.99 L837.64,130.18 L839.04,126.43 L840.56,122.72 L842.21,119.06 L843.99,115.46 L845.91,111.93 L847.98,108.46 L850.21,105.06 L852.6,101.76 L855.18,98.62 L857.96,95.71 L860.96,93.07 L864.2,90.77 L867.69,88.89 L871.46,87.46 L875.5,86.6"/>
<path d="M782.8,966.7 L786.71,965.56 L790.04,963.41 L793.04,960.86 L795.75,957.99 L798.21,954.9 L800.45,951.65 L802.5,948.24 L804.36,944.7 L806.05,941.04 L807.59,937.28 L808.98,933.45 L810.26,929.55 L811.42,925.62 L812.49,921.65 L813.49,917.68 L814.41,913.7 L815.26,909.72 L816.05,905.74 L816.78,901.76 L817.46,897.77 L818.08,893.78 L818.65,889.79 L819.17,885.79 L819.66,881.79 L820.1,877.79 L820.51,873.79 L820.89,869.78 L821.24,865.78 L821.56,861.77 L821.87,857.76 L822.16,853.74 L822.43,849.73 L822.7,845.71 L822.96,841.7 L823.22,837.68 L823.48,833.66 L823.73,829.64 L823.99,825.62 L824.24,821.6 L824.49,817.57 L824.74,813.55 L824.99,809.52 L825.24,805.5 L825.48,801.47 L825.72,797.44 L825.95,793.41 L826.19,789.38 L826.41,785.35 L826.64,781.32 L826.86,777.29 L827.08,773.26 L827.29,769.22 L827.5,765.19 L827.7,761.15 L827.9,757.12 L828.09,753.08 L828.27,749.05 L828.45,745.01 L828.63,740.98 L828.79,736.94 L828.95,732.9 L829.11,728.87 L829.25,724.83 L829.39,720.79 L829.52,716.75 L829.65,712.72 L829.76,708.68 L829.87,704.64 L829.97,700.6 L830.06,696.56 L830.14,692.53 L830.21,688.49 L830.27,684.45 L830.32,680.42 L830.37,676.38 L830.4,672.34 L830.42,668.31 L830.43,664.27 L830.43,660.23 L830.42,656.2 L830.41,652.16 L830.39,648.13 L830.36,644.09 L830.32,640.06 L830.28,636.03 L830.23,631.99 L830.18,627.96 L830.12,623.92 L830.06,619.89 L830,615.86 L829.93,611.82 L829.87,607.79 L829.8,603.76 L829.74,599.72 L829.67,595.69 L829.61,591.66 L829.55,587.62 L829.49,583.59 L829.43,579.56 L829.38,575.52 L829.33,571.49 L829.29,567.46 L829.26,563.42 L829.23,559.39 L829.2,555.35 L829.19,551.32 L829.18,547.28 L829.18,543.25 L829.2,539.21 L829.22,535.18 L829.25,531.14 L829.29,527.11 L829.33,523.07 L829.38,519.04 L829.44,515 L829.5,510.96 L829.56,506.93 L829.63,502.89 L829.69,498.85 L829.75,494.82 L829.81,490.78 L829.87,486.74 L829.93,482.7 L829.97,478.67 L830.02,474.63 L830.05,470.59 L830.08,466.56 L830.1,462.52 L830.11,458.48 L830.1,454.45 L830.09,450.41 L830.07,446.37 L830.05,442.34 L830.02,438.3 L829.98,434.27 L829.95,430.23 L829.91,426.2 L829.88,422.16 L829.84,418.12 L829.82,414.09 L829.79,410.05 L829.78,406.02 L829.77,401.98 L829.78,397.95 L829.79,393.91 L829.82,389.88 L829.86,385.84 L829.92,381.81 L829.99,377.77 L830.09,373.74 L830.2,369.71 L830.34,365.67 L830.5,361.64 L830.68,357.6 L830.89,353.57 L831.13,349.53 L831.39,345.5 L831.69,341.47 L832.04,337.44 L832.43,333.42 L832.88,329.4 L833.41,325.41 L834.01,321.43 L834.7,317.47 L835.48,313.54 L836.38,309.63 L837.38,305.76 L838.45,301.89 L839.54,298.03 L840.6,294.15 L841.57,290.22 L842.42,286.25 L843.17,282.24 L843.86,278.2 L844.51,274.16 L845.16,270.11 L845.85,266.08 L846.59,262.08 L847.42,258.12 L848.38,254.22 L849.49,250.39 L850.78,246.64 L852.3,242.99 L854.08,239.46 L856.19,236.13 L858.7,233.06 L861.7,230.33 L865.3,228.2"/>
<path d="M782.8,966.7 L787.07,966.7 L791.12,965.86 L794.87,964.47 L798.34,962.6 L801.54,960.3 L804.47,957.62 L807.14,954.63 L809.55,951.36 L811.71,947.89 L813.64,944.25 L815.32,940.52 L816.78,936.71 L818.04,932.86 L819.1,928.96 L820,925.02 L820.76,921.05 L821.39,917.04 L821.92,913.01 L822.36,908.97 L822.74,904.91 L823.08,900.86 L823.38,896.8 L823.67,892.74 L823.94,888.68 L824.19,884.63 L824.42,880.58 L824.63,876.52 L824.82,872.47 L824.99,868.43 L825.15,864.38 L825.29,860.33 L825.41,856.29 L825.51,852.24 L825.6,848.2 L825.67,844.16 L825.73,840.11 L825.77,836.07 L825.8,832.03 L825.82,827.99 L825.82,823.95 L825.81,819.91 L825.78,815.87 L825.74,811.83 L825.69,807.8 L825.63,803.76 L825.56,799.72 L825.48,795.68 L825.39,791.64 L825.28,787.6 L825.17,783.56 L825.05,779.52 L824.92,775.48 L824.78,771.44 L824.64,767.39 L824.49,763.35 L824.33,759.31 L824.16,755.26 L823.99,751.22 L823.81,747.17 L823.63,743.12 L823.44,739.07 L823.25,735.02 L823.05,730.97 L822.86,726.92 L822.66,722.86 L822.47,718.81 L822.28,714.75 L822.11,710.7 L821.94,706.64 L821.79,702.59 L821.66,698.53 L821.54,694.48 L821.45,690.43 L821.38,686.37 L821.34,682.32 L821.33,678.27 L821.35,674.23 L821.4,670.18 L821.49,666.14 L821.63,662.1 L821.8,658.06 L822.02,654.03 L822.29,650 L822.61,645.97 L822.98,641.95 L823.4,637.93 L823.89,633.92 L824.43,629.91 L825.04,625.9 L825.72,621.9 L826.47,617.92 L827.31,613.95 L828.25,610.01 L829.29,606.1 L830.44,602.23 L831.71,598.39 L833.11,594.61 L834.65,590.87 L836.34,587.2 L838.17,583.59 L840.14,580.04 L842.25,576.56 L844.47,573.15 L846.81,569.81 L849.27,566.55 L851.83,563.38 L854.5,560.31 L857.29,557.35 L860.18,554.51 L863.2,551.81 L866.32,549.26 L869.57,546.87 L872.92,544.65 L876.39,542.6 L879.96,540.74 L883.65,539.07 L887.44,537.61 L891.34,536.37 L895.3,535.3"/>
<path d="M782.8,966.7 L857.9,966.7"/>
<path d="M782.8,966.7 L784.73,966.73 L786.57,966.82 L788.32,966.96 L789.97,967.16 L791.54,967.42 L793.04,967.73 L794.45,968.09 L795.8,968.51 L797.07,968.98 L798.28,969.5 L799.43,970.08 L800.52,970.7 L801.57,971.37 L802.56,972.09 L803.51,972.86 L804.42,973.68 L805.29,974.54 L806.13,975.45 L806.94,976.4 L807.72,977.39 L808.49,978.43 L809.24,979.51 L809.97,980.64 L810.7,981.8 L812.84,985.3 L814.8,988.91 L816.64,992.56 L818.35,996.25 L819.94,999.97 L821.41,1003.72 L822.77,1007.5 L824.03,1011.31 L825.18,1015.15 L826.24,1019.02 L827.2,1022.91 L828.07,1026.82 L828.86,1030.76 L829.57,1034.71 L830.2,1038.68 L830.76,1042.67 L831.26,1046.68 L831.69,1050.7 L832.06,1054.73 L832.39,1058.77 L832.66,1062.82 L832.89,1066.88 L833.07,1070.95 L833.23,1075.02 L833.35,1079.1 L833.44,1083.18 L833.52,1087.25 L833.57,1091.33 L833.61,1095.41 L833.65,1099.48 L833.67,1103.54 L833.69,1107.61 L833.7,1111.66 L833.71,1115.72 L833.7,1119.77 L833.69,1123.82 L833.67,1127.87 L833.65,1131.91 L833.62,1135.95 L833.58,1139.99 L833.53,1144.03 L833.47,1148.06 L833.41,1152.1 L833.34,1156.13 L833.26,1160.16 L833.18,1164.2 L833.08,1168.23 L832.98,1172.26 L832.87,1176.3 L832.75,1180.33 L832.62,1184.37 L832.49,1188.4 L832.35,1192.44 L832.2,1196.48 L832.04,1200.52 L831.88,1204.56 L831.71,1208.61 L831.54,1212.65 L831.37,1216.7 L831.2,1220.75 L831.04,1224.8 L830.87,1228.85 L830.72,1232.89 L830.57,1236.94 L830.42,1240.99 L830.29,1245.05 L830.16,1249.1 L830.05,1253.15 L829.96,1257.2 L829.87,1261.25 L829.81,1265.3 L829.76,1269.35 L829.73,1273.39 L829.73,1277.44 L829.74,1281.49 L829.78,1285.53 L829.85,1289.58 L829.94,1293.62 L830.06,1297.66 L830.2,1301.7 L830.38,1305.74 L830.6,1309.78 L830.85,1313.81 L831.14,1317.84 L831.47,1321.86 L831.84,1325.89 L832.26,1329.9 L832.72,1333.91 L833.24,1337.92 L833.81,1341.92 L834.43,1345.91 L835.11,1349.89 L835.85,1353.87 L836.63,1357.84 L837.45,1361.8 L838.29,1365.76 L839.14,1369.72 L839.98,1373.68 L840.81,1377.64 L841.61,1381.6 L842.4,1385.57 L843.15,1389.53 L843.88,1393.5 L844.58,1397.48 L845.25,1401.45 L845.89,1405.43 L846.5,1409.42 L847.07,1413.41 L847.61,1417.4 L848.11,1421.4 L848.58,1425.4 L849,1429.4 L849.4,1433.42 L849.78,1437.44 L850.14,1441.47 L850.5,1445.5 L850.87,1449.55 L851.25,1453.6 L851.65,1457.67 L852.09,1461.73 L852.57,1465.79 L853.12,1469.84 L853.73,1473.87 L854.42,1477.89 L855.2,1481.88 L856.09,1485.85 L857.08,1489.78 L858.2,1493.67 L859.46,1497.52 L860.86,1501.31 L862.41,1505.05 L864.13,1508.72 L866.01,1512.28 L868.08,1515.74 L870.32,1519.05 L872.75,1522.21 L875.38,1525.19 L878.21,1527.98 L881.24,1530.55 L884.5,1532.89 L887.97,1534.97 L891.67,1536.78 L895.6,1538.29 L899.6,1539.4"/>
<path d="M782.8,966.7 L784.09,966.74 L785.29,966.87 L786.41,967.07 L787.44,967.34 L788.39,967.68 L789.27,968.09 L790.09,968.56 L790.83,969.09 L791.53,969.67 L792.16,970.29 L792.75,970.96 L793.29,971.67 L793.79,972.42 L794.26,973.2 L794.7,974 L795.11,974.83 L795.49,975.68 L795.86,976.54 L796.22,977.42 L796.58,978.3 L796.92,979.18 L797.27,980.06 L797.63,980.93 L798,981.8 L799.62,985.51 L800.98,989.32 L802.28,993.14 L803.51,996.98 L804.68,1000.84 L805.8,1004.7 L806.86,1008.59 L807.86,1012.48 L808.81,1016.39 L809.72,1020.3 L810.57,1024.23 L811.38,1028.17 L812.14,1032.12 L812.86,1036.08 L813.55,1040.04 L814.19,1044.02 L814.8,1048 L815.37,1051.99 L815.91,1055.98 L816.42,1059.98 L816.9,1063.99 L817.36,1068 L817.79,1072.02 L818.2,1076.04 L818.59,1080.06 L818.96,1084.08 L819.31,1088.11 L819.65,1092.14 L819.98,1096.17 L820.3,1100.19 L820.61,1104.22 L820.91,1108.25 L821.2,1112.28 L821.48,1116.31 L821.75,1120.34 L822.01,1124.37 L822.26,1128.39 L822.51,1132.42 L822.74,1136.45 L822.97,1140.48 L823.19,1144.51 L823.4,1148.54 L823.61,1152.57 L823.8,1156.6 L823.99,1160.63 L824.17,1164.66 L824.35,1168.69 L824.51,1172.71 L824.67,1176.74 L824.82,1180.77 L824.97,1184.8 L825.11,1188.83 L825.24,1192.86 L825.37,1196.89 L825.49,1200.92 L825.6,1204.95 L825.71,1208.98 L825.82,1213.01 L825.91,1217.04 L826.01,1221.07 L826.09,1225.1 L826.18,1229.13 L826.25,1233.16 L826.33,1237.19 L826.39,1241.22 L826.46,1245.25 L826.52,1249.28 L826.57,1253.31 L826.62,1257.34 L826.67,1261.37 L826.71,1265.4 L826.75,1269.43 L826.79,1273.46 L826.82,1277.5 L826.85,1281.53 L826.88,1285.56 L826.9,1289.59 L826.92,1293.62 L826.94,1297.65 L826.96,1301.68 L826.97,1305.71 L826.98,1309.74 L826.99,1313.77 L827,1317.8 L827.01,1321.84 L827.02,1325.87 L827.02,1329.9 L827.02,1333.93 L827.03,1337.96 L827.03,1341.99 L827.03,1346.02 L827.03,1350.06 L827.03,1354.09 L827.03,1358.12 L827.04,1362.15 L827.04,1366.18 L827.04,1370.21 L827.04,1374.25 L827.05,1378.28 L827.06,1382.31 L827.06,1386.34 L827.07,1390.37 L827.08,1394.4 L827.1,1398.44 L827.11,1402.47 L827.13,1406.5 L827.15,1410.53 L827.17,1414.57 L827.19,1418.6 L827.22,1422.63 L827.25,1426.66 L827.29,1430.69 L827.33,1434.73 L827.37,1438.76 L827.42,1442.79 L827.47,1446.82 L827.52,1450.86 L827.58,1454.89 L827.65,1458.92 L827.72,1462.95 L827.79,1466.99 L827.87,1471.02 L827.95,1475.05 L828.05,1479.09 L828.14,1483.12 L828.24,1487.15 L828.35,1491.18 L828.47,1495.22 L828.59,1499.25 L828.72,1503.28 L828.85,1507.32 L829,1511.35 L829.15,1515.38 L829.3,1519.42 L829.47,1523.45 L829.64,1527.48 L829.82,1531.51 L830.01,1535.55 L830.21,1539.58 L830.41,1543.61 L830.63,1547.65 L830.87,1551.68 L831.14,1555.7 L831.44,1559.72 L831.8,1563.74 L832.21,1567.74 L832.7,1571.73 L833.26,1575.7 L833.91,1579.66 L834.67,1583.6 L835.53,1587.52 L836.5,1591.42 L837.59,1595.29 L838.76,1599.15 L840,1603 L841.27,1606.84 L842.55,1610.67 L843.82,1614.5 L845.07,1618.33 L846.3,1622.17 L847.51,1626.01 L848.68,1629.86 L849.83,1633.72 L850.93,1637.59 L852.02,1641.46 L853.11,1645.34 L854.23,1649.21 L855.39,1653.08 L856.64,1656.93 L857.98,1660.75 L859.45,1664.55 L861.04,1668.31 L862.76,1672 L864.62,1675.62 L866.63,1679.14 L868.78,1682.55 L871.08,1685.84 L873.54,1688.99 L876.16,1691.99 L878.95,1694.81 L881.92,1697.44 L885.06,1699.87 L888.39,1702.08 L891.91,1704.05 L895.62,1705.77 L899.53,1707.21 L903.5,1708.4"/>
<path d="M782.8,966.7 L784.41,966.74 L785.93,966.84 L787.35,967.02 L788.7,967.26 L789.96,967.56 L791.15,967.93 L792.27,968.35 L793.32,968.83 L794.3,969.36 L795.23,969.94 L796.11,970.56 L796.94,971.23 L797.72,971.95 L798.46,972.7 L799.16,973.49 L799.84,974.31 L800.48,975.16 L801.1,976.05 L801.71,976.96 L802.3,977.89 L802.88,978.84 L803.45,979.81 L804.02,980.8 L804.6,981.8 L806.64,985.34 L808.35,988.99 L809.9,992.69 L811.31,996.43 L812.59,1000.22 L813.75,1004.04 L814.81,1007.9 L815.77,1011.79 L816.66,1015.7 L817.48,1019.63 L818.24,1023.58 L818.97,1027.54 L819.66,1031.51 L820.34,1035.48 L821.01,1039.45 L821.66,1043.43 L822.3,1047.41 L822.93,1051.39 L823.53,1055.37 L824.12,1059.36 L824.69,1063.35 L825.24,1067.34 L825.78,1071.33 L826.29,1075.32 L826.78,1079.31 L827.24,1083.31 L827.69,1087.31 L828.1,1091.31 L828.5,1095.31 L828.87,1099.31 L829.21,1103.32 L829.53,1107.32 L829.82,1111.33 L830.09,1115.34 L830.34,1119.35 L830.58,1123.36 L830.79,1127.37 L830.99,1131.39 L831.17,1135.4 L831.33,1139.42 L831.48,1143.44 L831.62,1147.45 L831.75,1151.47 L831.87,1155.49 L831.98,1159.51 L832.08,1163.53 L832.18,1167.55 L832.27,1171.57 L832.35,1175.59 L832.44,1179.61 L832.52,1183.63 L832.6,1187.65 L832.69,1191.68 L832.77,1195.7 L832.86,1199.72 L832.95,1203.74 L833.04,1207.76 L833.14,1211.78 L833.23,1215.81 L833.32,1219.83 L833.42,1223.85 L833.51,1227.87 L833.61,1231.89 L833.7,1235.91 L833.8,1239.93 L833.89,1243.96 L833.99,1247.98 L834.08,1252 L834.17,1256.02 L834.26,1260.04 L834.34,1264.06 L834.43,1268.08 L834.51,1272.11 L834.59,1276.13 L834.67,1280.15 L834.74,1284.17 L834.81,1288.19 L834.88,1292.21 L834.94,1296.23 L835,1300.25 L835.05,1304.27 L835.1,1308.3 L835.15,1312.32 L835.19,1316.34 L835.22,1320.36 L835.25,1324.38 L835.28,1328.4 L835.3,1332.42 L835.32,1336.44 L835.34,1340.46 L835.34,1344.48 L835.35,1348.5 L835.35,1352.52 L835.35,1356.54 L835.35,1360.56 L835.34,1364.58 L835.32,1368.6 L835.31,1372.62 L835.29,1376.64 L835.26,1380.66 L835.24,1384.68 L835.21,1388.7 L835.18,1392.72 L835.14,1396.74 L835.1,1400.76 L835.06,1404.78 L835.02,1408.8 L834.97,1412.82 L834.92,1416.84 L834.87,1420.86 L834.82,1424.88 L834.76,1428.9 L834.7,1432.92 L834.64,1436.94 L834.58,1440.96 L834.52,1444.98 L834.45,1449 L834.38,1453.02 L834.32,1457.04 L834.24,1461.06 L834.17,1465.08 L834.1,1469.1 L834.02,1473.12 L833.95,1477.14 L833.87,1481.16 L833.79,1485.18 L833.71,1489.2 L833.63,1493.22 L833.55,1497.24 L833.47,1501.26 L833.39,1505.28 L833.3,1509.3 L833.22,1513.33 L833.14,1517.35 L833.05,1521.37 L832.97,1525.39 L832.88,1529.41 L832.8,1533.43 L832.71,1537.45 L832.63,1541.47 L832.55,1545.49 L832.46,1549.51 L832.38,1553.53 L832.3,1557.55 L832.21,1561.57 L832.13,1565.59 L832.05,1569.61 L831.97,1573.63 L831.89,1577.65 L831.81,1581.67 L831.74,1585.69 L831.66,1589.72 L831.59,1593.74 L831.51,1597.76 L831.44,1601.78 L831.37,1605.8 L831.3,1609.82 L831.24,1613.84 L831.17,1617.86 L831.11,1621.89 L831.05,1625.91 L830.99,1629.93 L830.93,1633.95 L830.88,1637.97 L830.82,1641.99 L830.77,1646.02 L830.73,1650.04 L830.68,1654.06 L830.64,1658.08 L830.6,1662.1 L830.56,1666.13 L830.53,1670.15 L830.5,1674.17 L830.47,1678.19 L830.44,1682.22 L830.42,1686.24 L830.4,1690.26 L830.39,1694.29 L830.38,1698.31 L830.37,1702.33 L830.37,1706.35 L830.37,1710.38 L830.38,1714.4 L830.41,1718.42 L830.44,1722.44 L830.48,1726.46 L830.54,1730.48 L830.61,1734.5 L830.7,1738.52 L830.8,1742.54 L830.92,1746.55 L831.07,1750.57 L831.23,1754.58 L831.42,1758.59 L831.63,1762.59 L831.86,1766.6 L832.13,1770.6 L832.42,1774.61 L832.74,1778.6 L833.09,1782.6 L833.47,1786.59 L833.89,1790.58 L834.34,1794.57 L834.82,1798.55 L835.35,1802.53 L835.91,1806.51 L836.51,1810.49 L837.14,1814.46 L837.8,1818.43 L838.48,1822.41 L839.17,1826.38 L839.87,1830.36 L840.58,1834.35 L841.29,1838.34 L842,1842.34 L842.71,1846.34 L843.45,1850.34 L844.23,1854.31 L845.08,1858.26 L846,1862.18 L847.01,1866.05 L848.14,1869.87 L849.4,1873.63 L850.81,1877.32 L852.39,1880.93 L854.14,1884.46 L856.1,1887.88 L858.27,1891.21 L860.68,1894.41 L863.34,1897.5 L866.5,1900.2"/>
<path d="M782.8,966.7 L784.36,966.74 L785.82,966.85 L787.19,967.03 L788.48,967.28 L789.69,967.6 L790.82,967.97 L791.89,968.41 L792.88,968.9 L793.82,969.44 L794.69,970.03 L795.52,970.67 L796.29,971.35 L797.03,972.07 L797.72,972.83 L798.39,973.62 L799.02,974.45 L799.63,975.3 L800.22,976.18 L800.79,977.08 L801.35,978 L801.91,978.93 L802.47,979.88 L803.03,980.84 L803.6,981.8 L805.7,985.33 L807.46,988.96 L809.05,992.65 L810.49,996.39 L811.79,1000.18 L812.96,1004 L814.03,1007.86 L814.99,1011.76 L815.88,1015.68 L816.69,1019.62 L817.44,1023.58 L818.16,1027.55 L818.84,1031.52 L819.52,1035.51 L820.18,1039.49 L820.82,1043.47 L821.46,1047.46 L822.08,1051.45 L822.69,1055.44 L823.28,1059.43 L823.85,1063.42 L824.41,1067.42 L824.94,1071.42 L825.46,1075.42 L825.96,1079.42 L826.43,1083.42 L826.89,1087.42 L827.32,1091.43 L827.73,1095.44 L828.11,1099.45 L828.47,1103.46 L828.8,1107.47 L829.11,1111.48 L829.4,1115.5 L829.67,1119.52 L829.92,1123.53 L830.15,1127.55 L830.36,1131.57 L830.56,1135.6 L830.74,1139.62 L830.91,1143.64 L831.06,1147.67 L831.2,1151.69 L831.33,1155.72 L831.45,1159.75 L831.56,1163.78 L831.66,1167.8 L831.76,1171.83 L831.84,1175.86 L831.93,1179.89 L832,1183.92 L832.08,1187.95 L832.15,1191.98 L832.22,1196.01 L832.29,1200.04 L832.36,1204.07 L832.43,1208.1 L832.49,1212.13 L832.56,1216.16 L832.62,1220.18 L832.67,1224.21 L832.73,1228.24 L832.78,1232.27 L832.83,1236.3 L832.88,1240.33 L832.92,1244.36 L832.96,1248.39 L832.99,1252.42 L833.03,1256.45 L833.05,1260.48 L833.08,1264.5 L833.1,1268.53 L833.11,1272.56 L833.12,1276.59 L833.13,1280.62 L833.13,1284.65 L833.13,1288.67 L833.12,1292.7 L833.1,1296.73 L833.08,1300.76 L833.05,1304.79 L833.02,1308.81 L832.98,1312.84 L832.93,1316.87 L832.88,1320.9 L832.83,1324.92 L832.77,1328.95 L832.7,1332.98 L832.63,1337 L832.55,1341.03 L832.47,1345.06 L832.38,1349.08 L832.29,1353.11 L832.2,1357.14 L832.1,1361.16 L832,1365.19 L831.9,1369.22 L831.79,1373.24 L831.68,1377.27 L831.56,1381.29 L831.44,1385.32 L831.32,1389.35 L831.2,1393.37 L831.08,1397.4 L830.95,1401.42 L830.82,1405.45 L830.69,1409.48 L830.56,1413.5 L830.42,1417.53 L830.29,1421.55 L830.15,1425.58 L830.02,1429.61 L829.88,1433.63 L829.74,1437.66 L829.6,1441.69 L829.46,1445.71 L829.33,1449.74 L829.19,1453.76 L829.05,1457.79 L828.91,1461.82 L828.77,1465.84 L828.63,1469.87 L828.49,1473.9 L828.35,1477.92 L828.21,1481.95 L828.07,1485.98 L827.94,1490 L827.8,1494.03 L827.66,1498.05 L827.52,1502.08 L827.38,1506.11 L827.24,1510.13 L827.11,1514.16 L826.97,1518.19 L826.83,1522.21 L826.7,1526.24 L826.56,1530.27 L826.43,1534.3 L826.29,1538.32 L826.16,1542.35 L826.02,1546.38 L825.89,1550.4 L825.76,1554.43 L825.62,1558.46 L825.49,1562.48 L825.36,1566.51 L825.23,1570.54 L825.1,1574.56 L824.97,1578.59 L824.85,1582.62 L824.72,1586.64 L824.59,1590.67 L824.47,1594.7 L824.35,1598.72 L824.22,1602.75 L824.1,1606.78 L823.98,1610.81 L823.86,1614.83 L823.74,1618.86 L823.62,1622.89 L823.51,1626.91 L823.39,1630.94 L823.28,1634.97 L823.16,1638.99 L823.05,1643.02 L822.94,1647.05 L822.83,1651.07 L822.73,1655.1 L822.62,1659.13 L822.52,1663.15 L822.41,1667.18 L822.31,1671.21 L822.21,1675.23 L822.11,1679.26 L822.02,1683.29 L821.92,1687.31 L821.83,1691.34 L821.73,1695.37 L821.64,1699.39 L821.55,1703.42 L821.47,1707.45 L821.38,1711.47 L821.3,1715.5 L821.22,1719.53 L821.14,1723.55 L821.06,1727.58 L820.99,1731.61 L820.91,1735.63 L820.84,1739.66 L820.77,1743.69 L820.71,1747.71 L820.64,1751.74 L820.58,1755.76 L820.53,1759.79 L820.48,1763.82 L820.44,1767.84 L820.4,1771.87 L820.36,1775.9 L820.34,1779.92 L820.32,1783.95 L820.31,1787.97 L820.3,1792 L820.31,1796.03 L820.32,1800.05 L820.35,1804.08 L820.38,1808.11 L820.42,1812.13 L820.48,1816.16 L820.54,1820.19 L820.62,1824.21 L820.7,1828.24 L820.81,1832.27 L820.92,1836.29 L821.05,1840.32 L821.19,1844.35 L821.34,1848.37 L821.51,1852.4 L821.7,1856.43 L821.9,1860.46 L822.11,1864.48 L822.35,1868.51 L822.6,1872.54 L822.86,1876.57 L823.15,1880.6 L823.45,1884.62 L823.78,1888.65 L824.13,1892.68 L824.51,1896.7 L824.92,1900.72 L825.37,1904.73 L825.87,1908.73 L826.41,1912.73 L827.01,1916.71 L827.66,1920.68 L828.37,1924.64 L829.15,1928.58 L830,1932.51 L830.93,1936.41 L831.94,1940.3 L833.05,1944.16 L834.28,1947.98 L835.63,1951.76 L837.12,1955.5 L838.75,1959.19 L840.51,1962.82 L842.42,1966.38 L844.45,1969.87 L846.62,1973.29 L848.91,1976.61 L851.33,1979.85 L853.86,1982.99 L856.52,1986.02 L859.3,1988.93 L862.19,1991.73 L865.2,1994.4 L868.31,1996.93 L871.54,1999.33 L874.87,2001.57 L878.3,2003.67 L881.83,2005.6 L885.45,2007.36 L889.17,2008.93 L892.96,2010.32 L896.84,2011.51 L900.79,2012.48 L904.8,2013.24 L908.8,2013.7"/>
<path d="M205.6,1259.9 L209.84,1259.71 L214.02,1258.82 L217.86,1257.42 L221.37,1255.58 L224.54,1253.34 L227.4,1250.74 L229.94,1247.84 L232.18,1244.69 L234.14,1241.31 L235.84,1237.76 L237.33,1234.05 L238.63,1230.22 L239.77,1226.29 L240.78,1222.3 L241.71,1218.28 L242.57,1214.26 L243.4,1210.26 L244.18,1206.27 L244.92,1202.3 L245.62,1198.33 L246.28,1194.37 L246.89,1190.41 L247.45,1186.44 L247.98,1182.47 L248.45,1178.49 L248.89,1174.51 L249.28,1170.52 L249.64,1166.53 L249.96,1162.53 L250.24,1158.52 L250.49,1154.52 L250.7,1150.51 L250.89,1146.49 L251.04,1142.48 L251.17,1138.46 L251.27,1134.44 L251.35,1130.41 L251.4,1126.39 L251.43,1122.36 L251.44,1118.34 L251.43,1114.31 L251.41,1110.29 L251.37,1106.26 L251.31,1102.24 L251.25,1098.21 L251.17,1094.19 L251.09,1090.17 L251,1086.15 L250.9,1082.14 L250.79,1078.13 L250.68,1074.12 L250.57,1070.11 L250.45,1066.1 L250.33,1062.09 L250.21,1058.09 L250.09,1054.08 L249.96,1050.08 L249.84,1046.07 L249.72,1042.07 L249.59,1038.06 L249.47,1034.05 L249.36,1030.04 L249.24,1026.03 L249.13,1022.01 L249.02,1018 L248.92,1013.98 L248.82,1009.96 L248.73,1005.93 L248.65,1001.9 L248.58,997.87 L248.51,993.83 L248.46,989.79 L248.41,985.74 L248.38,981.69 L248.37,977.64 L248.39,973.59 L248.44,969.54 L248.53,965.5 L248.66,961.46 L248.84,957.43 L249.08,953.41 L249.38,949.4 L249.74,945.4 L250.18,941.42 L250.69,937.45 L251.28,933.51 L251.97,929.58 L252.75,925.67 L253.62,921.79 L254.61,917.94 L255.7,914.11 L256.91,910.31 L258.25,906.54 L259.7,902.8 L261.24,899.09 L262.86,895.39 L264.52,891.7 L266.2,888.02 L267.88,884.34 L269.54,880.65 L271.14,876.95 L272.67,873.23 L274.13,869.5 L275.54,865.75 L276.92,861.99 L278.31,858.23 L279.71,854.47 L281.13,850.72 L282.56,846.96 L284.01,843.21 L285.47,839.46 L286.93,835.7 L288.39,831.95 L289.85,828.19 L291.3,824.44 L292.75,820.68 L294.18,816.91 L295.6,813.14 L297.01,809.37 L298.41,805.6 L299.8,801.82 L301.18,798.04 L302.54,794.25 L303.9,790.46 L305.24,786.67 L306.58,782.88 L307.9,779.08 L309.22,775.28 L310.52,771.48 L311.82,767.67 L313.11,763.86 L314.38,760.05 L315.65,756.24 L316.91,752.42 L318.17,748.6 L319.41,744.78 L320.65,740.96 L321.88,737.13 L323.1,733.31 L324.32,729.48 L325.52,725.64 L326.73,721.81 L327.92,717.97 L329.11,714.14 L330.3,710.3 L331.47,706.45 L332.65,702.61 L333.81,698.77 L334.98,694.92 L336.13,691.07 L337.29,687.22 L338.44,683.37 L339.58,679.52 L340.72,675.67 L341.86,671.82 L342.99,667.96 L344.13,664.1 L345.25,660.25 L346.38,656.39 L347.5,652.53 L348.62,648.67 L349.74,644.81 L350.86,640.95 L351.97,637.09 L353.09,633.23 L354.2,629.37 L355.31,625.5 L356.43,621.64 L357.54,617.78 L358.65,613.92 L359.76,610.05 L360.87,606.19 L361.98,602.33 L363.1,598.47 L364.21,594.6 L365.33,590.74 L366.44,586.88 L367.56,583.02 L368.68,579.16 L369.8,575.3 L370.93,571.44 L372.05,567.58 L373.18,563.72 L374.32,559.86 L375.45,556 L376.59,552.15 L377.74,548.29 L378.88,544.44 L380.03,540.59 L381.19,536.74 L382.35,532.89 L383.52,529.04 L384.69,525.19 L385.86,521.34 L387.04,517.5 L388.23,513.66 L389.42,509.82 L390.62,505.98 L391.83,502.14 L393.04,498.3 L394.26,494.47 L395.49,490.64 L396.72,486.81 L397.96,482.98 L399.21,479.16 L400.47,475.33 L401.74,471.51 L403.01,467.69 L404.29,463.88 L405.58,460.07 L406.89,456.25 L408.2,452.45 L409.52,448.64 L410.85,444.84 L412.19,441.04 L413.54,437.25 L414.9,433.46 L416.27,429.67 L417.66,425.89 L419.05,422.11 L420.46,418.34 L421.88,414.57 L423.31,410.81 L424.76,407.05 L426.21,403.3 L427.68,399.55 L429.17,395.81 L430.66,392.08 L432.17,388.35 L433.7,384.63 L435.24,380.91 L436.79,377.21 L438.36,373.5 L439.95,369.81 L441.55,366.13 L443.16,362.45 L444.79,358.78 L446.44,355.12 L448.1,351.46 L449.78,347.82 L451.48,344.18 L453.19,340.55 L454.92,336.94 L456.67,333.33 L458.44,329.73 L460.22,326.14 L462.03,322.56 L463.85,318.99 L465.69,315.43 L467.55,311.88 L469.43,308.34 L471.33,304.82 L473.25,301.3 L475.19,297.8 L477.15,294.31 L479.13,290.83 L481.14,287.36 L483.16,283.9 L485.21,280.46 L487.27,277.03 L489.36,273.61 L491.47,270.21 L493.61,266.81 L495.76,263.43 L497.94,260.07 L500.15,256.72 L502.37,253.38 L504.62,250.06 L506.9,246.75 L509.2,243.46 L511.52,240.18 L513.87,236.92 L516.24,233.67 L518.64,230.44 L521.07,227.22 L523.52,224.02 L525.99,220.84 L528.49,217.67 L531.02,214.52 L533.57,211.39 L536.14,208.28 L538.75,205.18 L541.37,202.11 L544.02,199.06 L546.7,196.02 L549.39,193.01 L552.12,190.02 L554.87,187.05 L557.64,184.1 L560.43,181.18 L563.25,178.28 L566.09,175.4 L568.96,172.55 L571.85,169.72 L574.76,166.92 L577.7,164.15 L580.66,161.4 L583.64,158.67 L586.65,155.98 L589.68,153.31 L592.73,150.67 L595.8,148.06 L598.9,145.48 L602.02,142.93 L605.16,140.4 L608.32,137.91 L611.51,135.45 L614.71,133.02 L617.94,130.63 L621.19,128.26 L624.46,125.93 L627.76,123.64 L631.07,121.37 L634.41,119.14 L637.76,116.95 L641.14,114.79 L644.54,112.67 L647.96,110.58 L651.4,108.53 L654.86,106.52 L658.34,104.54 L661.84,102.61 L665.36,100.71 L668.9,98.85 L672.46,97.04 L676.04,95.26 L679.64,93.52 L683.27,91.83 L686.9,90.17 L690.56,88.56 L694.24,86.99 L697.94,85.46 L701.66,83.98 L705.39,82.54 L709.15,81.15 L712.92,79.8 L716.71,78.5 L720.52,77.23 L724.34,76.02 L728.19,74.84 L732.04,73.71 L735.91,72.62 L739.8,71.57 L743.7,70.56 L747.61,69.59 L751.53,68.65 L755.47,67.76 L759.41,66.9 L763.36,66.07 L767.33,65.29 L771.3,64.54 L775.28,63.82 L779.27,63.13 L783.26,62.48 L787.26,61.86 L791.26,61.28 L795.27,60.72 L799.28,60.19 L803.3,59.7 L807.32,59.23 L811.34,58.79 L815.35,58.37 L819.37,57.99 L823.39,57.63 L827.41,57.29 L831.43,56.98 L835.44,56.69 L839.45,56.43 L843.46,56.19 L847.46,55.97 L851.45,55.77 L855.44,55.59 L859.43,55.43 L863.4,55.29 L867.37,55.17 L871.33,55.07 L875.4,55"/>
<path d="M205.6,1259.9 L252,1259.9"/>
<path d="M205.6,1259.9 L209.97,1259.89 L214.29,1260.55 L218.18,1261.76 L221.67,1263.46 L224.79,1265.61 L227.57,1268.16 L230.03,1271.07 L232.2,1274.27 L234.12,1277.73 L235.8,1281.39 L237.28,1285.21 L238.59,1289.14 L239.75,1293.13 L240.8,1297.14 L241.77,1301.15 L242.71,1305.15 L243.64,1309.12 L244.6,1313.06 L245.64,1316.95 L246.79,1320.77 L248.1,1324.52 L249.59,1328.17 L251.3,1331.72 L253.25,1335.17 L255.39,1338.53 L257.68,1341.81 L260.09,1345.05 L262.58,1348.24 L265.11,1351.42 L267.64,1354.6 L270.15,1357.77 L272.66,1360.96 L275.15,1364.14 L277.64,1367.33 L280.11,1370.52 L282.58,1373.72 L285.05,1376.91 L287.5,1380.1 L289.96,1383.3 L292.41,1386.49 L294.86,1389.68 L297.31,1392.87 L299.75,1396.06 L302.21,1399.25 L304.66,1402.43 L307.12,1405.61 L309.58,1408.79 L312.05,1411.96 L314.52,1415.13 L317,1418.29 L319.49,1421.44 L321.99,1424.6 L324.49,1427.74 L327,1430.89 L329.52,1434.02 L332.04,1437.16 L334.57,1440.28 L337.11,1443.41 L339.65,1446.52 L342.2,1449.64 L344.75,1452.75 L347.31,1455.85 L349.88,1458.95 L352.46,1462.05 L355.04,1465.14 L357.62,1468.22 L360.21,1471.3 L362.81,1474.38 L365.42,1477.45 L368.02,1480.52 L370.64,1483.58 L373.26,1486.64 L375.89,1489.7 L378.52,1492.75 L381.16,1495.79 L383.8,1498.83 L386.45,1501.87 L389.1,1504.9 L391.76,1507.93 L394.42,1510.95 L397.09,1513.97 L399.76,1516.99 L402.44,1520 L405.13,1523.01 L407.81,1526.01 L410.51,1529.01 L413.2,1532.01 L415.91,1535 L418.61,1537.98 L421.33,1540.97 L424.04,1543.95 L426.76,1546.92 L429.49,1549.89 L432.21,1552.86 L434.95,1555.82 L437.68,1558.78 L440.42,1561.73 L443.17,1564.69 L445.92,1567.63 L448.67,1570.58 L451.43,1573.52 L454.19,1576.45 L456.95,1579.39 L459.72,1582.32 L462.49,1585.24 L465.26,1588.16 L468.04,1591.08 L470.82,1594 L473.61,1596.91 L476.4,1599.82 L479.19,1602.72 L481.98,1605.62 L484.78,1608.52 L487.58,1611.42 L490.39,1614.31 L493.19,1617.2 L496,1620.08 L498.82,1622.97 L501.63,1625.85 L504.45,1628.73 L507.27,1631.6 L510.1,1634.47 L512.92,1637.34 L515.75,1640.21 L518.58,1643.07 L521.42,1645.94 L524.26,1648.79 L527.1,1651.65 L529.94,1654.51 L532.78,1657.36 L535.63,1660.21 L538.48,1663.06 L541.33,1665.9 L544.18,1668.74 L547.04,1671.59 L549.89,1674.42 L552.75,1677.26 L555.62,1680.1 L558.48,1682.93 L561.34,1685.76 L564.21,1688.59 L567.08,1691.42 L569.95,1694.25 L572.82,1697.07 L575.69,1699.89 L578.57,1702.72 L581.44,1705.54 L584.32,1708.36 L587.2,1711.17 L590.08,1713.99 L592.96,1716.8 L595.85,1719.62 L598.73,1722.43 L601.62,1725.24 L604.5,1728.05 L607.39,1730.86 L610.28,1733.67 L613.17,1736.48 L616.06,1739.28 L618.95,1742.09 L621.84,1744.89 L624.73,1747.7 L627.63,1750.5 L630.52,1753.3 L633.42,1756.11 L636.31,1758.91 L639.21,1761.71 L642.1,1764.51 L645,1767.31 L647.9,1770.11 L650.79,1772.91 L653.69,1775.71 L656.59,1778.51 L659.49,1781.31 L662.38,1784.11 L665.28,1786.91 L668.18,1789.71 L671.08,1792.5 L673.97,1795.3 L676.87,1798.1 L679.77,1800.9 L682.66,1803.7 L685.56,1806.5 L688.46,1809.31 L691.35,1812.11 L694.25,1814.91 L697.14,1817.71 L700.04,1820.51 L702.93,1823.32 L705.82,1826.12 L708.72,1828.93 L711.61,1831.73 L714.5,1834.54 L717.39,1837.35 L720.28,1840.15 L723.17,1842.96 L726.05,1845.77 L728.94,1848.58 L731.82,1851.4 L734.71,1854.21 L737.59,1857.03 L740.47,1859.84 L743.35,1862.66 L746.23,1865.48 L749.11,1868.3 L751.98,1871.12 L754.86,1873.94 L757.73,1876.77 L760.6,1879.59 L763.47,1882.42 L766.35,1885.25 L769.22,1888.07 L772.09,1890.9 L774.96,1893.72 L777.84,1896.55 L780.71,1899.37 L783.59,1902.2 L786.46,1905.02 L789.34,1907.84 L792.23,1910.66 L795.11,1913.47 L798,1916.29 L800.89,1919.1 L803.78,1921.91 L806.68,1924.71 L809.58,1927.51 L812.48,1930.32 L815.37,1933.12 L818.26,1935.93 L821.13,1938.76 L823.99,1941.6 L826.81,1944.47 L829.61,1947.36 L832.37,1950.28 L835.09,1953.24 L837.76,1956.24 L840.38,1959.28 L842.94,1962.38 L845.44,1965.52 L847.87,1968.73 L850.22,1971.99 L852.5,1975.33 L854.71,1978.72 L856.86,1982.17 L858.97,1985.65 L861.04,1989.15 L863.1,1992.66 L865.15,1996.17 L867.22,1999.67 L869.31,2003.14 L871.44,2006.57 L873.62,2009.94 L875.87,2013.26 L878.19,2016.49 L880.61,2019.64 L883.14,2022.68 L885.78,2025.61 L888.57,2028.4 L891.5,2031.06 L894.59,2033.57 L897.86,2035.91 L901.31,2038.07 L904.97,2040.04 L908.8,2041.6"/>
<path d="M884.15,54.88 L895.53,59.6 L889.77,54.74 L895.4,54.6 L889.77,54.74 L895.27,49.6 L884.15,54.88 Z" fill="#000" stroke-width="1.33" stroke-linejoin="miter" stroke-miterlimit="10"/>
<circle cx="879.6" cy="55" r="4.15" fill="#fff" stroke-width="1.33"/>
<path d="M884.08,85.53 L896.24,88.53 L889.74,84.57 L895.4,83.6 L889.74,84.57 L894.56,78.67 L884.08,85.53 Z" fill="#000" stroke-width="1.33" stroke-linejoin="miter" stroke-miterlimit="10"/>
<circle cx="879.6" cy="86.3" r="4.15" fill="#fff" stroke-width="1.33"/>
<path d="M873.83,226.24 L886.06,228.46 L879.36,224.92 L884.9,223.6 L879.36,224.92 L883.74,218.74 L873.83,226.24 Z" fill="#000" stroke-width="1.33" stroke-linejoin="miter" stroke-miterlimit="10"/>
<circle cx="869.4" cy="227.3" r="4.15" fill="#fff" stroke-width="1.33"/>
<path d="M903.94,534.46 L915.68,538.59 L909.62,534.03 L915.3,533.6 L909.62,534.03 L914.92,528.61 L903.94,534.46 Z" fill="#000" stroke-width="1.33" stroke-linejoin="miter" stroke-miterlimit="10"/>
<circle cx="899.4" cy="534.8" r="4.15" fill="#fff" stroke-width="1.33"/>
<path d="M866.65,966.7 L878.2,971.7 L872.42,966.7 L878.2,966.7 L872.42,966.7 L878.2,961.7 L866.65,966.7 Z" fill="#000" stroke-width="1.33" stroke-linejoin="miter" stroke-miterlimit="10"/>
<circle cx="862.1" cy="966.7" r="4.15" fill="#fff" stroke-width="1.33"/>
<path d="M908.23,1540.44 L918.51,1546.48 L913.61,1540.97 L919,1541.5 L913.61,1540.97 L919.49,1536.52 L908.23,1540.44 Z" fill="#000" stroke-width="1.33" stroke-linejoin="miter" stroke-miterlimit="10"/>
<circle cx="903.7" cy="1540" r="4.15" fill="#fff" stroke-width="1.33"/>
<path d="M912.13,1709.56 L922.79,1715.67 L917.71,1710.13 L923.3,1710.7 L917.71,1710.13 L923.81,1705.73 L912.13,1709.56 Z" fill="#000" stroke-width="1.33" stroke-linejoin="miter" stroke-miterlimit="10"/>
<circle cx="907.6" cy="1709.1" r="4.15" fill="#fff" stroke-width="1.33"/>
<path d="M874.95,1902.13 L884.88,1909.3 L880.43,1903.26 L885.9,1904.4 L880.43,1903.26 L886.92,1899.5 L874.95,1902.13 Z" fill="#000" stroke-width="1.33" stroke-linejoin="miter" stroke-miterlimit="10"/>
<circle cx="870.5" cy="1901.2" r="4.15" fill="#fff" stroke-width="1.33"/>
<path d="M917.44,2014.29 L928.49,2019.99 L923.12,2014.64 L928.8,2015 L923.12,2014.64 L929.11,2010.01 L917.44,2014.29 Z" fill="#000" stroke-width="1.33" stroke-linejoin="miter" stroke-miterlimit="10"/>
<circle cx="912.9" cy="2014" r="4.15" fill="#fff" stroke-width="1.33"/>
<path d="M917.42,2042.91 L928.24,2049.17 L923.11,2043.56 L928.8,2044.2 L923.11,2043.56 L929.36,2039.23 L917.42,2042.91 Z" fill="#000" stroke-width="1.33" stroke-linejoin="miter" stroke-miterlimit="10"/>
<circle cx="912.9" cy="2042.4" r="4.15" fill="#fff" stroke-width="1.33"/>
<path d="M260.75,1259.9 L271.9,1264.9 L266.32,1259.9 L271.9,1259.9 L266.32,1259.9 L271.9,1254.9 L260.75,1259.9 Z" fill="#000" stroke-width="1.33" stroke-linejoin="miter" stroke-miterlimit="10"/>
<circle cx="256.2" cy="1259.9" r="4.15" fill="#fff" stroke-width="1.33"/>
</g>
<g>
<text x="16" y="2121.5" textLength="190">Generated by SchemaSpy</text>
</g>
</svg>
</body></html>
